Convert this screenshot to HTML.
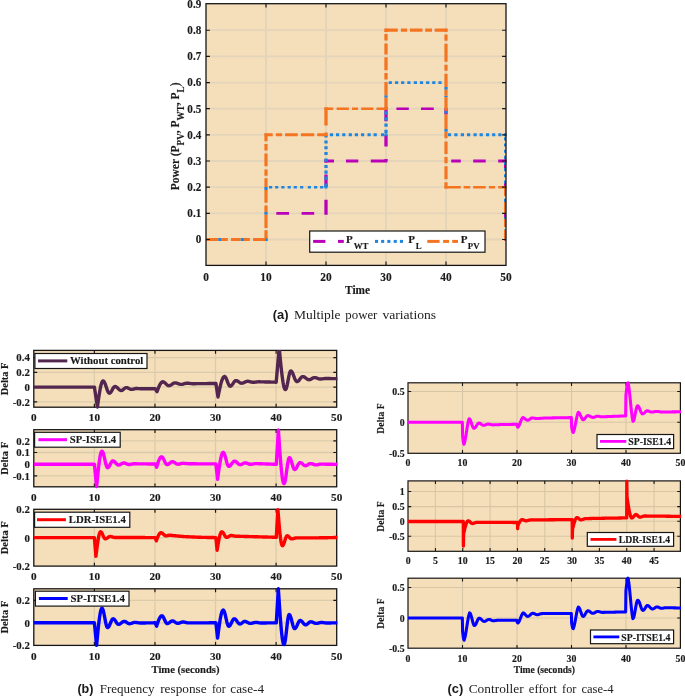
<!DOCTYPE html>
<html><head><meta charset="utf-8"><title>figure</title>
<style>html,body{margin:0;padding:0;background:#fff}svg{display:block;will-change:transform;opacity:0.999}</style></head><body>
<svg width="685" height="697" viewBox="0 0 685 697">
<rect x="0" y="0" width="685" height="697" fill="#ffffff"/>
<rect x="206" y="3.7" width="300" height="261.7" fill="#f5deba"/>
<line x1="266" y1="3.7" x2="266" y2="265.4" stroke="rgb(227,212,186)" stroke-width="1.8"/>
<line x1="326" y1="3.7" x2="326" y2="265.4" stroke="rgb(227,212,186)" stroke-width="1.8"/>
<line x1="386" y1="3.7" x2="386" y2="265.4" stroke="rgb(227,212,186)" stroke-width="1.8"/>
<line x1="446" y1="3.7" x2="446" y2="265.4" stroke="rgb(227,212,186)" stroke-width="1.8"/>
<line x1="206" y1="239.5" x2="506" y2="239.5" stroke="rgb(227,212,186)" stroke-width="1.8"/>
<line x1="206" y1="213.34" x2="506" y2="213.34" stroke="rgb(227,212,186)" stroke-width="1.8"/>
<line x1="206" y1="187.18" x2="506" y2="187.18" stroke="rgb(227,212,186)" stroke-width="1.8"/>
<line x1="206" y1="161.02" x2="506" y2="161.02" stroke="rgb(227,212,186)" stroke-width="1.8"/>
<line x1="206" y1="134.86" x2="506" y2="134.86" stroke="rgb(227,212,186)" stroke-width="1.8"/>
<line x1="206" y1="108.7" x2="506" y2="108.7" stroke="rgb(227,212,186)" stroke-width="1.8"/>
<line x1="206" y1="82.54" x2="506" y2="82.54" stroke="rgb(227,212,186)" stroke-width="1.8"/>
<line x1="206" y1="56.38" x2="506" y2="56.38" stroke="rgb(227,212,186)" stroke-width="1.8"/>
<line x1="206" y1="30.22" x2="506" y2="30.22" stroke="rgb(227,212,186)" stroke-width="1.8"/>
<clipPath id="ca"><rect x="206" y="3.7" width="300.6" height="261.7"/></clipPath>
<g clip-path="url(#ca)" fill="none" stroke-linecap="butt">
<line x1="276.3" y1="213.34" x2="289" y2="213.34" stroke="#ba00ba" stroke-width="2.8"/>
<line x1="301.6" y1="213.34" x2="314.2" y2="213.34" stroke="#ba00ba" stroke-width="2.8"/>
<line x1="326" y1="214.74" x2="326" y2="199.8" stroke="#ba00ba" stroke-width="3.3"/>
<line x1="326" y1="187" x2="326" y2="174.5" stroke="#ba00ba" stroke-width="3.3"/>
<line x1="326" y1="162.5" x2="326" y2="159.62" stroke="#ba00ba" stroke-width="3.3"/>
<line x1="324.6" y1="161.02" x2="334" y2="161.02" stroke="#ba00ba" stroke-width="2.8"/>
<line x1="346" y1="161.02" x2="358.3" y2="161.02" stroke="#ba00ba" stroke-width="2.8"/>
<line x1="370.8" y1="161.02" x2="387.4" y2="161.02" stroke="#ba00ba" stroke-width="2.8"/>
<line x1="386" y1="161.02" x2="386" y2="159" stroke="#ba00ba" stroke-width="3.3"/>
<line x1="386" y1="146.6" x2="386" y2="135" stroke="#ba00ba" stroke-width="3.3"/>
<line x1="386" y1="121.3" x2="386" y2="107.3" stroke="#ba00ba" stroke-width="3.3"/>
<line x1="396.4" y1="108.7" x2="408.8" y2="108.7" stroke="#ba00ba" stroke-width="2.6"/>
<line x1="421" y1="108.7" x2="433.8" y2="108.7" stroke="#ba00ba" stroke-width="2.6"/>
<line x1="446" y1="108" x2="446" y2="114.4" stroke="#ba00ba" stroke-width="3.3"/>
<line x1="446" y1="87.1" x2="446" y2="89.8" stroke="#1f86e0" stroke-width="3.3"/>
<line x1="446" y1="95.8" x2="446" y2="97.2" stroke="#1f86e0" stroke-width="3.3"/>
<line x1="446" y1="111" x2="446" y2="113.2" stroke="#1f86e0" stroke-width="3.3"/>
<line x1="446" y1="128.9" x2="446" y2="131.8" stroke="#1f86e0" stroke-width="3.3"/>
<line x1="451.2" y1="161.02" x2="460.8" y2="161.02" stroke="#ba00ba" stroke-width="2.8"/>
<line x1="473.2" y1="161.02" x2="485.7" y2="161.02" stroke="#ba00ba" stroke-width="2.8"/>
<line x1="498.2" y1="161.02" x2="507.5" y2="161.02" stroke="#ba00ba" stroke-width="2.8"/>
<line x1="505" y1="159.62" x2="505" y2="170" stroke="#ba00ba" stroke-width="2"/>
<line x1="505" y1="182" x2="505" y2="194" stroke="#ba00ba" stroke-width="2"/>
<line x1="505" y1="206" x2="505" y2="218" stroke="#ba00ba" stroke-width="2"/>
<line x1="505" y1="230" x2="505" y2="240.8" stroke="#ba00ba" stroke-width="2"/>
<line x1="218.2" y1="239.5" x2="221.6" y2="239.5" stroke="#1f86e0" stroke-width="2.8"/>
<line x1="240.5" y1="239.5" x2="243.9" y2="239.5" stroke="#1f86e0" stroke-width="2.8"/>
<line x1="264.5" y1="239.5" x2="267.5" y2="239.5" stroke="#1f86e0" stroke-width="2.8"/>
<line x1="266" y1="211.9" x2="266" y2="214.8" stroke="#1f86e0" stroke-width="3.3"/>
<line x1="266" y1="186.9" x2="266" y2="190" stroke="#1f86e0" stroke-width="3.3"/>
<line x1="269" y1="187.18" x2="272.2" y2="187.18" stroke="#1f86e0" stroke-width="2.5"/>
<line x1="275.1" y1="187.18" x2="278.3" y2="187.18" stroke="#1f86e0" stroke-width="2.5"/>
<line x1="281.3" y1="187.18" x2="284.5" y2="187.18" stroke="#1f86e0" stroke-width="2.5"/>
<line x1="287.6" y1="187.18" x2="290.8" y2="187.18" stroke="#1f86e0" stroke-width="2.5"/>
<line x1="293.7" y1="187.18" x2="296.9" y2="187.18" stroke="#1f86e0" stroke-width="2.5"/>
<line x1="300.1" y1="187.18" x2="303.3" y2="187.18" stroke="#1f86e0" stroke-width="2.5"/>
<line x1="307.8" y1="187.18" x2="311" y2="187.18" stroke="#1f86e0" stroke-width="2.5"/>
<line x1="314" y1="187.18" x2="317.2" y2="187.18" stroke="#1f86e0" stroke-width="2.5"/>
<line x1="320.1" y1="187.18" x2="323.3" y2="187.18" stroke="#1f86e0" stroke-width="2.5"/>
<line x1="324.4" y1="187.18" x2="327.5" y2="187.18" stroke="#1f86e0" stroke-width="2.5"/>
<line x1="326" y1="134.5" x2="326" y2="137.6" stroke="#1f86e0" stroke-width="3.3"/>
<line x1="326" y1="140.5" x2="326" y2="143.6" stroke="#1f86e0" stroke-width="3.3"/>
<line x1="326" y1="146.2" x2="326" y2="149.3" stroke="#1f86e0" stroke-width="3.3"/>
<line x1="326" y1="152" x2="326" y2="155.1" stroke="#1f86e0" stroke-width="3.3"/>
<line x1="326" y1="158.6" x2="326" y2="161.7" stroke="#1f86e0" stroke-width="3.3"/>
<line x1="326" y1="164.9" x2="326" y2="168" stroke="#1f86e0" stroke-width="3.3"/>
<line x1="326" y1="170.6" x2="326" y2="173.7" stroke="#1f86e0" stroke-width="3.3"/>
<line x1="326" y1="176.6" x2="326" y2="179.7" stroke="#1f86e0" stroke-width="3.3"/>
<line x1="326" y1="183.6" x2="326" y2="186.7" stroke="#1f86e0" stroke-width="3.3"/>
<line x1="329.9" y1="134.86" x2="333.1" y2="134.86" stroke="#1f86e0" stroke-width="3"/>
<line x1="336" y1="134.86" x2="339.2" y2="134.86" stroke="#1f86e0" stroke-width="3"/>
<line x1="342.2" y1="134.86" x2="345.4" y2="134.86" stroke="#1f86e0" stroke-width="3"/>
<line x1="348.7" y1="134.86" x2="351.9" y2="134.86" stroke="#1f86e0" stroke-width="3"/>
<line x1="354.8" y1="134.86" x2="358" y2="134.86" stroke="#1f86e0" stroke-width="3"/>
<line x1="361" y1="134.86" x2="364.2" y2="134.86" stroke="#1f86e0" stroke-width="3"/>
<line x1="367.5" y1="134.86" x2="370.7" y2="134.86" stroke="#1f86e0" stroke-width="3"/>
<line x1="373.6" y1="134.86" x2="376.8" y2="134.86" stroke="#1f86e0" stroke-width="3"/>
<line x1="381" y1="134.86" x2="384.2" y2="134.86" stroke="#1f86e0" stroke-width="3"/>
<line x1="384.5" y1="134.86" x2="387.5" y2="134.86" stroke="#1f86e0" stroke-width="3"/>
<line x1="386" y1="129.7" x2="386" y2="132.9" stroke="#1f86e0" stroke-width="3.3"/>
<line x1="386" y1="123.5" x2="386" y2="126.7" stroke="#1f86e0" stroke-width="3.3"/>
<line x1="386" y1="117.3" x2="386" y2="120.5" stroke="#1f86e0" stroke-width="3.3"/>
<line x1="386" y1="111.3" x2="386" y2="114.5" stroke="#1f86e0" stroke-width="3.3"/>
<line x1="386" y1="95.2" x2="386" y2="97.8" stroke="#1f86e0" stroke-width="3.3"/>
<line x1="388.7" y1="82.54" x2="391.9" y2="82.54" stroke="#1f86e0" stroke-width="2.8"/>
<line x1="395" y1="82.54" x2="398.2" y2="82.54" stroke="#1f86e0" stroke-width="2.8"/>
<line x1="401.1" y1="82.54" x2="404.3" y2="82.54" stroke="#1f86e0" stroke-width="2.8"/>
<line x1="407.3" y1="82.54" x2="410.5" y2="82.54" stroke="#1f86e0" stroke-width="2.8"/>
<line x1="413.8" y1="82.54" x2="417" y2="82.54" stroke="#1f86e0" stroke-width="2.8"/>
<line x1="419.9" y1="82.54" x2="423.1" y2="82.54" stroke="#1f86e0" stroke-width="2.8"/>
<line x1="426.1" y1="82.54" x2="429.3" y2="82.54" stroke="#1f86e0" stroke-width="2.8"/>
<line x1="432.2" y1="82.54" x2="435.4" y2="82.54" stroke="#1f86e0" stroke-width="2.8"/>
<line x1="438.4" y1="82.54" x2="441.6" y2="82.54" stroke="#1f86e0" stroke-width="2.8"/>
<line x1="447.9" y1="134.86" x2="451.1" y2="134.86" stroke="#1f86e0" stroke-width="3"/>
<line x1="454.3" y1="134.86" x2="457.5" y2="134.86" stroke="#1f86e0" stroke-width="3"/>
<line x1="460.8" y1="134.86" x2="464" y2="134.86" stroke="#1f86e0" stroke-width="3"/>
<line x1="467" y1="134.86" x2="470.2" y2="134.86" stroke="#1f86e0" stroke-width="3"/>
<line x1="473.5" y1="134.86" x2="476.7" y2="134.86" stroke="#1f86e0" stroke-width="3"/>
<line x1="479.6" y1="134.86" x2="482.8" y2="134.86" stroke="#1f86e0" stroke-width="3"/>
<line x1="486" y1="134.86" x2="489.2" y2="134.86" stroke="#1f86e0" stroke-width="3"/>
<line x1="492.1" y1="134.86" x2="495.3" y2="134.86" stroke="#1f86e0" stroke-width="3"/>
<line x1="498.3" y1="134.86" x2="501.5" y2="134.86" stroke="#1f86e0" stroke-width="3"/>
<line x1="503.7" y1="134.86" x2="507.5" y2="134.86" stroke="#1f86e0" stroke-width="3"/>
<line x1="505" y1="137.36" x2="505" y2="140.46" stroke="#1f86e0" stroke-width="2"/>
<line x1="505" y1="143.51" x2="505" y2="146.61" stroke="#1f86e0" stroke-width="2"/>
<line x1="505" y1="149.66" x2="505" y2="152.76" stroke="#1f86e0" stroke-width="2"/>
<line x1="505" y1="155.81" x2="505" y2="158.91" stroke="#1f86e0" stroke-width="2"/>
<line x1="505" y1="161.96" x2="505" y2="165.06" stroke="#1f86e0" stroke-width="2"/>
<line x1="505" y1="168.11" x2="505" y2="171.21" stroke="#1f86e0" stroke-width="2"/>
<line x1="505" y1="174.26" x2="505" y2="177.36" stroke="#1f86e0" stroke-width="2"/>
<line x1="505" y1="180.41" x2="505" y2="183.51" stroke="#1f86e0" stroke-width="2"/>
<line x1="505" y1="186.56" x2="505" y2="189.66" stroke="#1f86e0" stroke-width="2"/>
<line x1="505" y1="192.71" x2="505" y2="195.81" stroke="#1f86e0" stroke-width="2"/>
<line x1="505" y1="198.86" x2="505" y2="201.96" stroke="#1f86e0" stroke-width="2"/>
<line x1="505" y1="205.01" x2="505" y2="208.11" stroke="#1f86e0" stroke-width="2"/>
<line x1="505" y1="211.16" x2="505" y2="214.26" stroke="#1f86e0" stroke-width="2"/>
<line x1="505" y1="217.31" x2="505" y2="220.41" stroke="#1f86e0" stroke-width="2"/>
<line x1="505" y1="223.46" x2="505" y2="226.56" stroke="#1f86e0" stroke-width="2"/>
<line x1="505" y1="229.61" x2="505" y2="232.71" stroke="#1f86e0" stroke-width="2"/>
<line x1="505" y1="235.76" x2="505" y2="238.86" stroke="#1f86e0" stroke-width="2"/>
<line x1="206" y1="239.5" x2="218.2" y2="239.5" stroke="#f47521" stroke-width="2.8"/>
<line x1="221.5" y1="239.5" x2="227.8" y2="239.5" stroke="#f47521" stroke-width="2.8"/>
<line x1="231" y1="239.5" x2="240.4" y2="239.5" stroke="#f47521" stroke-width="2.8"/>
<line x1="243.9" y1="239.5" x2="249.9" y2="239.5" stroke="#f47521" stroke-width="2.8"/>
<line x1="253.1" y1="239.5" x2="267.4" y2="239.5" stroke="#f47521" stroke-width="2.8"/>
<line x1="266" y1="240.9" x2="266" y2="230.3" stroke="#f47521" stroke-width="3.2"/>
<line x1="266" y1="227.9" x2="266" y2="214.8" stroke="#f47521" stroke-width="3.2"/>
<line x1="266" y1="211.9" x2="266" y2="205.5" stroke="#f47521" stroke-width="3.2"/>
<line x1="266" y1="202.8" x2="266" y2="190" stroke="#f47521" stroke-width="3.2"/>
<line x1="266" y1="186.9" x2="266" y2="178.3" stroke="#f47521" stroke-width="3.2"/>
<line x1="266" y1="175.8" x2="266" y2="169.4" stroke="#f47521" stroke-width="3.2"/>
<line x1="266" y1="166.3" x2="266" y2="153.4" stroke="#f47521" stroke-width="3.2"/>
<line x1="266" y1="150.5" x2="266" y2="143.9" stroke="#f47521" stroke-width="3.2"/>
<line x1="266" y1="141.3" x2="266" y2="133.46" stroke="#f47521" stroke-width="3.2"/>
<line x1="264.6" y1="134.86" x2="272.7" y2="134.86" stroke="#f47521" stroke-width="3"/>
<line x1="275.9" y1="134.86" x2="282.1" y2="134.86" stroke="#f47521" stroke-width="3"/>
<line x1="285.1" y1="134.86" x2="297.8" y2="134.86" stroke="#f47521" stroke-width="3"/>
<line x1="300.9" y1="134.86" x2="314.2" y2="134.86" stroke="#f47521" stroke-width="3"/>
<line x1="317.2" y1="134.86" x2="327.4" y2="134.86" stroke="#f47521" stroke-width="3"/>
<line x1="326" y1="134.86" x2="326" y2="132.6" stroke="#f47521" stroke-width="3.3"/>
<line x1="326" y1="125.5" x2="326" y2="107.3" stroke="#f47521" stroke-width="3.3"/>
<line x1="324.6" y1="108.7" x2="333.2" y2="108.7" stroke="#f47521" stroke-width="2.6"/>
<line x1="336.6" y1="108.7" x2="348.9" y2="108.7" stroke="#f47521" stroke-width="2.6"/>
<line x1="352" y1="108.7" x2="358.1" y2="108.7" stroke="#f47521" stroke-width="2.6"/>
<line x1="361.2" y1="108.7" x2="373.4" y2="108.7" stroke="#f47521" stroke-width="2.6"/>
<line x1="376.5" y1="108.7" x2="387.4" y2="108.7" stroke="#f47521" stroke-width="2.6"/>
<line x1="386" y1="110.1" x2="386" y2="97.8" stroke="#f47521" stroke-width="3.3"/>
<line x1="386" y1="95.2" x2="386" y2="82.1" stroke="#f47521" stroke-width="3.3"/>
<line x1="386" y1="79.4" x2="386" y2="73.1" stroke="#f47521" stroke-width="3.3"/>
<line x1="386" y1="70.2" x2="386" y2="57.3" stroke="#f47521" stroke-width="3.3"/>
<line x1="386" y1="54.4" x2="386" y2="43.4" stroke="#f47521" stroke-width="3.3"/>
<line x1="386" y1="40.6" x2="386" y2="33.9" stroke="#f47521" stroke-width="3.3"/>
<line x1="386" y1="32" x2="386" y2="28.82" stroke="#f47521" stroke-width="3.3"/>
<line x1="384.6" y1="30.22" x2="397.8" y2="30.22" stroke="#f47521" stroke-width="3.2"/>
<line x1="400.9" y1="30.22" x2="407.1" y2="30.22" stroke="#f47521" stroke-width="3.2"/>
<line x1="409.9" y1="30.22" x2="422.5" y2="30.22" stroke="#f47521" stroke-width="3.2"/>
<line x1="425.2" y1="30.22" x2="432" y2="30.22" stroke="#f47521" stroke-width="3.2"/>
<line x1="434.7" y1="30.22" x2="447.4" y2="30.22" stroke="#f47521" stroke-width="3.2"/>
<line x1="446" y1="28.82" x2="446" y2="31.8" stroke="#f47521" stroke-width="3.2"/>
<line x1="446" y1="34.5" x2="446" y2="40.8" stroke="#f47521" stroke-width="3.2"/>
<line x1="446" y1="43.7" x2="446" y2="61.8" stroke="#f47521" stroke-width="3.2"/>
<line x1="446" y1="64.7" x2="446" y2="70.8" stroke="#f47521" stroke-width="3.2"/>
<line x1="446" y1="73.7" x2="446" y2="87.1" stroke="#f47521" stroke-width="3.2"/>
<line x1="446" y1="89.8" x2="446" y2="95.8" stroke="#f47521" stroke-width="3.2"/>
<line x1="446" y1="97.2" x2="446" y2="110.8" stroke="#f47521" stroke-width="3.2"/>
<line x1="446" y1="114.4" x2="446" y2="128.9" stroke="#f47521" stroke-width="3.2"/>
<line x1="446" y1="131.8" x2="446" y2="138.3" stroke="#f47521" stroke-width="3.2"/>
<line x1="446" y1="141.4" x2="446" y2="154" stroke="#f47521" stroke-width="3.2"/>
<line x1="446" y1="156.9" x2="446" y2="163.3" stroke="#f47521" stroke-width="3.2"/>
<line x1="446" y1="166.3" x2="446" y2="179.2" stroke="#f47521" stroke-width="3.2"/>
<line x1="446" y1="182.2" x2="446" y2="188.58" stroke="#f47521" stroke-width="3.2"/>
<line x1="444.6" y1="187.18" x2="460.8" y2="187.18" stroke="#f47521" stroke-width="2.5"/>
<line x1="463.7" y1="187.18" x2="470.2" y2="187.18" stroke="#f47521" stroke-width="2.5"/>
<line x1="473.2" y1="187.18" x2="485.7" y2="187.18" stroke="#f47521" stroke-width="2.5"/>
<line x1="488.9" y1="187.18" x2="495.1" y2="187.18" stroke="#f47521" stroke-width="2.5"/>
<line x1="498.2" y1="187.18" x2="507.5" y2="187.18" stroke="#f47521" stroke-width="2.5"/>
<line x1="505" y1="185.78" x2="505" y2="196" stroke="#f47521" stroke-width="2"/>
<line x1="505" y1="202" x2="505" y2="213" stroke="#f47521" stroke-width="2"/>
<line x1="505" y1="218.8" x2="505" y2="227" stroke="#f47521" stroke-width="2"/>
<line x1="505" y1="230" x2="505" y2="240.8" stroke="#f47521" stroke-width="2"/>
<line x1="265.3" y1="239.7" x2="267.5" y2="239.7" stroke="#1f86e0" stroke-width="2.6"/>
</g>
<path d="M266 265.4v-3.9M266 3.7v3.9M326 265.4v-3.9M326 3.7v3.9M386 265.4v-3.9M386 3.7v3.9M446 265.4v-3.9M446 3.7v3.9M206 239.5h3.9M506 239.5h-3.9M206 213.34h3.9M506 213.34h-3.9M206 187.18h3.9M506 187.18h-3.9M206 161.02h3.9M506 161.02h-3.9M206 134.86h3.9M506 134.86h-3.9M206 108.7h3.9M506 108.7h-3.9M206 82.54h3.9M506 82.54h-3.9M206 56.38h3.9M506 56.38h-3.9M206 30.22h3.9M506 30.22h-3.9" stroke="#161616" stroke-width="1.17" fill="none"/>
<rect x="206" y="3.7" width="300" height="261.7" fill="none" stroke="#161616" stroke-width="1.3"/>
<rect x="309.7" y="231" width="175.3" height="21.2" fill="#ffffff" stroke="#161616" stroke-width="1.2"/>
<line x1="313.1" y1="241.4" x2="325.4" y2="241.4" stroke="#ba00ba" stroke-width="3"/>
<line x1="338" y1="241.4" x2="343.8" y2="241.4" stroke="#ba00ba" stroke-width="3"/>
<line x1="375" y1="241.4" x2="378.1" y2="241.4" stroke="#1f86e0" stroke-width="3"/>
<line x1="381.1" y1="241.4" x2="384.2" y2="241.4" stroke="#1f86e0" stroke-width="3"/>
<line x1="387.3" y1="241.4" x2="390.4" y2="241.4" stroke="#1f86e0" stroke-width="3"/>
<line x1="393.7" y1="241.4" x2="396.8" y2="241.4" stroke="#1f86e0" stroke-width="3"/>
<line x1="399.9" y1="241.4" x2="403" y2="241.4" stroke="#1f86e0" stroke-width="3"/>
<line x1="427.3" y1="241.4" x2="439.6" y2="241.4" stroke="#f47521" stroke-width="3"/>
<line x1="443.1" y1="241.4" x2="449" y2="241.4" stroke="#f47521" stroke-width="3"/>
<line x1="452.2" y1="241.4" x2="458" y2="241.4" stroke="#f47521" stroke-width="3"/>
<text transform="translate(346 242.9)" font-family="Liberation Serif" font-size="11" font-weight="bold" text-anchor="start" fill="#1a1a1a" stroke="#1a1a1a" stroke-width="0.15">P</text>
<text transform="translate(353.8 248.7)" font-family="Liberation Serif" font-size="8.8" font-weight="bold" text-anchor="start" fill="#1a1a1a" stroke="#1a1a1a" stroke-width="0.15">WT</text>
<text transform="translate(408.2 242.9)" font-family="Liberation Serif" font-size="11" font-weight="bold" text-anchor="start" fill="#1a1a1a" stroke="#1a1a1a" stroke-width="0.15">P</text>
<text transform="translate(415.7 248.7)" font-family="Liberation Serif" font-size="8.8" font-weight="bold" text-anchor="start" fill="#1a1a1a" stroke="#1a1a1a" stroke-width="0.15">L</text>
<text transform="translate(460.7 242.9)" font-family="Liberation Serif" font-size="11" font-weight="bold" text-anchor="start" fill="#1a1a1a" stroke="#1a1a1a" stroke-width="0.15">P</text>
<text transform="translate(467.8 248.7)" font-family="Liberation Serif" font-size="8.8" font-weight="bold" text-anchor="start" fill="#1a1a1a" stroke="#1a1a1a" stroke-width="0.15">PV</text>
<text transform="translate(206 280.5) scale(0.920 1.000)" font-family="Liberation Serif" font-size="12.4" font-weight="bold" text-anchor="middle" fill="#1a1a1a" stroke="#1a1a1a" stroke-width="0.15">0</text>
<text transform="translate(266 280.5) scale(0.920 1.000)" font-family="Liberation Serif" font-size="12.4" font-weight="bold" text-anchor="middle" fill="#1a1a1a" stroke="#1a1a1a" stroke-width="0.15">10</text>
<text transform="translate(326 280.5) scale(0.920 1.000)" font-family="Liberation Serif" font-size="12.4" font-weight="bold" text-anchor="middle" fill="#1a1a1a" stroke="#1a1a1a" stroke-width="0.15">20</text>
<text transform="translate(386 280.5) scale(0.920 1.000)" font-family="Liberation Serif" font-size="12.4" font-weight="bold" text-anchor="middle" fill="#1a1a1a" stroke="#1a1a1a" stroke-width="0.15">30</text>
<text transform="translate(446 280.5) scale(0.920 1.000)" font-family="Liberation Serif" font-size="12.4" font-weight="bold" text-anchor="middle" fill="#1a1a1a" stroke="#1a1a1a" stroke-width="0.15">40</text>
<text transform="translate(506 280.5) scale(0.920 1.000)" font-family="Liberation Serif" font-size="12.4" font-weight="bold" text-anchor="middle" fill="#1a1a1a" stroke="#1a1a1a" stroke-width="0.15">50</text>
<text transform="translate(201.3 243.4) scale(0.900 1.000)" font-family="Liberation Serif" font-size="12.4" font-weight="bold" text-anchor="end" fill="#1a1a1a" stroke="#1a1a1a" stroke-width="0.15">0</text>
<text transform="translate(201.3 217.24) scale(0.900 1.000)" font-family="Liberation Serif" font-size="12.4" font-weight="bold" text-anchor="end" fill="#1a1a1a" stroke="#1a1a1a" stroke-width="0.15">0.1</text>
<text transform="translate(201.3 191.08) scale(0.900 1.000)" font-family="Liberation Serif" font-size="12.4" font-weight="bold" text-anchor="end" fill="#1a1a1a" stroke="#1a1a1a" stroke-width="0.15">0.2</text>
<text transform="translate(201.3 164.92) scale(0.900 1.000)" font-family="Liberation Serif" font-size="12.4" font-weight="bold" text-anchor="end" fill="#1a1a1a" stroke="#1a1a1a" stroke-width="0.15">0.3</text>
<text transform="translate(201.3 138.76) scale(0.900 1.000)" font-family="Liberation Serif" font-size="12.4" font-weight="bold" text-anchor="end" fill="#1a1a1a" stroke="#1a1a1a" stroke-width="0.15">0.4</text>
<text transform="translate(201.3 112.6) scale(0.900 1.000)" font-family="Liberation Serif" font-size="12.4" font-weight="bold" text-anchor="end" fill="#1a1a1a" stroke="#1a1a1a" stroke-width="0.15">0.5</text>
<text transform="translate(201.3 86.44) scale(0.900 1.000)" font-family="Liberation Serif" font-size="12.4" font-weight="bold" text-anchor="end" fill="#1a1a1a" stroke="#1a1a1a" stroke-width="0.15">0.6</text>
<text transform="translate(201.3 60.28) scale(0.900 1.000)" font-family="Liberation Serif" font-size="12.4" font-weight="bold" text-anchor="end" fill="#1a1a1a" stroke="#1a1a1a" stroke-width="0.15">0.7</text>
<text transform="translate(201.3 34.12) scale(0.900 1.000)" font-family="Liberation Serif" font-size="12.4" font-weight="bold" text-anchor="end" fill="#1a1a1a" stroke="#1a1a1a" stroke-width="0.15">0.8</text>
<text transform="translate(201.3 7.96) scale(0.900 1.000)" font-family="Liberation Serif" font-size="12.4" font-weight="bold" text-anchor="end" fill="#1a1a1a" stroke="#1a1a1a" stroke-width="0.15">0.9</text>
<text transform="translate(357.6 294.2) scale(0.930 1.000)" font-family="Liberation Serif" font-size="12.2" font-weight="bold" text-anchor="middle" fill="#1a1a1a" stroke="#1a1a1a" stroke-width="0.15">Time</text>
<text transform="translate(178.5 136.4) rotate(-90) scale(0.915 1)" font-family="Liberation Serif" font-weight="bold" font-size="12.6" text-anchor="middle" stroke="#1a1a1a" stroke-width="0.15" fill="#1a1a1a">Power (P<tspan font-size="10" dy="5.2">PV</tspan><tspan dy="-5.2">, P</tspan><tspan font-size="10" dy="5.2">WT</tspan><tspan dy="-5.2">, P</tspan><tspan font-size="10" dy="5.2">L</tspan><tspan dy="-5.2">)</tspan></text>
<text transform="translate(272.8 319)" font-family="Liberation Sans" font-size="12.2" font-weight="bold" text-anchor="start" fill="#1a1a1a" textLength="15.8" lengthAdjust="spacingAndGlyphs">(a)</text>
<text transform="translate(294 319)" font-family="Liberation Serif" font-size="12.6" font-weight="normal" text-anchor="start" fill="#222222" textLength="46.6" lengthAdjust="spacingAndGlyphs">Multiple</text>
<text transform="translate(345.3 319)" font-family="Liberation Serif" font-size="12.6" font-weight="normal" text-anchor="start" fill="#222222" textLength="32.1" lengthAdjust="spacingAndGlyphs">power</text>
<text transform="translate(382.4 319)" font-family="Liberation Serif" font-size="12.6" font-weight="normal" text-anchor="start" fill="#222222" textLength="53.7" lengthAdjust="spacingAndGlyphs">variations</text>
<rect x="33.8" y="350.4" width="302.9" height="56.8" fill="#f5deba"/>
<line x1="94.38" y1="350.4" x2="94.38" y2="407.2" stroke="rgb(220,203,170)" stroke-width="1.3"/>
<line x1="154.96" y1="350.4" x2="154.96" y2="407.2" stroke="rgb(220,203,170)" stroke-width="1.3"/>
<line x1="215.54" y1="350.4" x2="215.54" y2="407.2" stroke="rgb(220,203,170)" stroke-width="1.3"/>
<line x1="276.12" y1="350.4" x2="276.12" y2="407.2" stroke="rgb(220,203,170)" stroke-width="1.3"/>
<line x1="33.8" y1="357.7" x2="336.7" y2="357.7" stroke="rgb(220,203,170)" stroke-width="1.3"/>
<line x1="33.8" y1="372.4" x2="336.7" y2="372.4" stroke="rgb(220,203,170)" stroke-width="1.3"/>
<line x1="33.8" y1="387.1" x2="336.7" y2="387.1" stroke="rgb(220,203,170)" stroke-width="1.3"/>
<line x1="33.8" y1="401.8" x2="336.7" y2="401.8" stroke="rgb(220,203,170)" stroke-width="1.3"/>
<clipPath id="cb0"><rect x="33.8" y="350" width="303.7" height="60.2"/></clipPath>
<path d="M94.38 407.2v-3.4M94.38 350.4v3.4M154.96 407.2v-3.4M154.96 350.4v3.4M215.54 407.2v-3.4M215.54 350.4v3.4M276.12 407.2v-3.4M276.12 350.4v3.4M33.8 357.7h3.4M336.7 357.7h-3.4M33.8 372.4h3.4M336.7 372.4h-3.4M33.8 387.1h3.4M336.7 387.1h-3.4M33.8 401.8h3.4M336.7 401.8h-3.4" stroke="#161616" stroke-width="1.17" fill="none"/>
<rect x="33.8" y="350.4" width="302.9" height="56.8" fill="none" stroke="#161616" stroke-width="1.3"/>
<path d="M33.8,387.1 34.2,387.1 34.6,387.1 35,387.1 35.39,387.1 35.79,387.1 36.19,387.1 36.59,387.1 36.99,387.1 37.39,387.1 37.79,387.1 38.19,387.1 38.58,387.1 38.98,387.1 39.38,387.1 39.78,387.1 40.18,387.1 40.58,387.1 40.98,387.1 41.38,387.1 41.77,387.1 42.17,387.1 42.57,387.1 42.97,387.1 43.37,387.1 43.77,387.1 44.17,387.1 44.56,387.1 44.96,387.1 45.36,387.1 45.76,387.1 46.16,387.1 46.56,387.1 46.96,387.1 47.36,387.1 47.75,387.1 48.15,387.1 48.55,387.1 48.95,387.1 49.35,387.1 49.75,387.1 50.15,387.1 50.54,387.1 50.94,387.1 51.34,387.1 51.74,387.1 52.14,387.1 52.54,387.1 52.94,387.1 53.34,387.1 53.73,387.1 54.13,387.1 54.53,387.1 54.93,387.1 55.33,387.1 55.73,387.1 56.13,387.1 56.52,387.1 56.92,387.1 57.32,387.1 57.72,387.1 58.12,387.1 58.52,387.1 58.92,387.1 59.32,387.1 59.71,387.1 60.11,387.1 60.51,387.1 60.91,387.1 61.31,387.1 61.71,387.1 62.11,387.1 62.51,387.1 62.9,387.1 63.3,387.1 63.7,387.1 64.1,387.1 64.5,387.1 64.9,387.1 65.3,387.1 65.69,387.1 66.09,387.1 66.49,387.1 66.89,387.1 67.29,387.1 67.69,387.1 68.09,387.1 68.49,387.1 68.88,387.1 69.28,387.1 69.68,387.1 70.08,387.1 70.48,387.1 70.88,387.1 71.28,387.1 71.68,387.1 72.07,387.1 72.47,387.1 72.87,387.1 73.27,387.1 73.67,387.1 74.07,387.1 74.47,387.1 74.86,387.1 75.26,387.1 75.66,387.1 76.06,387.1 76.46,387.1 76.86,387.1 77.26,387.1 77.66,387.1 78.05,387.1 78.45,387.1 78.85,387.1 79.25,387.1 79.65,387.1 80.05,387.1 80.45,387.1 80.84,387.1 81.24,387.1 81.64,387.1 82.04,387.1 82.44,387.1 82.84,387.1 83.24,387.1 83.64,387.1 84.03,387.1 84.43,387.1 84.83,387.1 85.23,387.1 85.63,387.1 86.03,387.1 86.43,387.1 86.83,387.1 87.22,387.1 87.62,387.1 88.02,387.1 88.42,387.1 88.82,387.1 89.22,387.1 89.62,387.1 90.01,387.1 90.41,387.1 90.81,387.1 91.21,387.1 91.61,387.1 92.01,387.1 92.41,387.1 92.81,387.1 93.2,387.1 93.6,387.1 94,387.1 94.4,387.1 94.78,389.59 95.15,392.08 95.53,394.56 95.9,397.05 96.28,399.54 96.65,402.02 97.03,404.51 97.4,407 97.78,404.27 98.16,401.57 98.54,398.93 98.92,396.38 99.3,393.95 99.68,391.66 100.06,389.54 100.44,387.6 100.82,385.88 101.2,384.4 101.58,383.16 101.96,382.18 102.34,381.47 102.72,381.04 103.1,380.9 103.49,381.02 103.89,381.37 104.28,381.94 104.67,382.7 105.07,383.63 105.46,384.7 105.86,385.85 106.25,387.05 106.64,388.25 107.04,389.4 107.43,390.47 107.83,391.4 108.22,392.16 108.61,392.73 109.01,393.08 109.4,393.2 109.8,393.12 110.2,392.87 110.6,392.47 111,391.94 111.4,391.3 111.8,390.6 112.2,389.85 112.6,389.1 113,388.4 113.4,387.76 113.8,387.23 114.2,386.83 114.6,386.58 115,386.5 115.39,386.54 115.78,386.65 116.16,386.84 116.55,387.09 116.94,387.39 117.33,387.73 117.71,388.11 118.1,388.5 118.49,388.89 118.88,389.27 119.26,389.61 119.65,389.91 120.04,390.16 120.42,390.35 120.81,390.46 121.2,390.5 121.57,390.46 121.94,390.36 122.31,390.18 122.69,389.95 123.06,389.68 123.43,389.37 123.8,389.05 124.17,388.73 124.54,388.42 124.91,388.15 125.29,387.92 125.66,387.74 126.03,387.64 126.4,387.6 126.79,387.63 127.18,387.7 127.58,387.83 127.97,387.99 128.36,388.18 128.75,388.39 129.15,388.61 129.54,388.82 129.93,389.01 130.32,389.17 130.72,389.3 131.11,389.37 131.5,389.4 131.88,389.39 132.27,389.35 132.65,389.29 133.04,389.21 133.42,389.11 133.81,389 134.19,388.9 134.58,388.79 134.96,388.69 135.35,388.61 135.73,388.55 136.12,388.51 136.5,388.5 136.89,388.52 137.29,388.54 137.68,388.56 138.07,388.59 138.46,388.61 138.86,388.63 139.25,388.65 139.64,388.67 140.04,388.69 140.43,388.71 140.82,388.74 141.21,388.76 141.61,388.78 142,388.8 142.4,388.8 142.8,388.8 143.2,388.8 143.6,388.8 144,388.8 144.4,388.8 144.8,388.8 145.2,388.8 145.6,388.8 146,388.8 146.4,388.8 146.8,388.8 147.2,388.8 147.6,388.8 148,388.8 148.4,388.8 148.8,388.8 149.2,388.8 149.6,388.8 150,388.8 150.4,388.8 150.8,388.8 151.2,388.8 151.6,388.8 152,388.8 152.4,388.8 152.8,388.8 153.2,388.8 153.6,388.8 154,388.8 154.4,388.8 154.8,388.8 155.2,388.8 155.56,389.36 155.92,389.92 156.28,390.48 156.64,391.04 157,391.6 157.39,390.58 157.77,389.56 158.16,388.57 158.55,387.61 158.93,386.7 159.32,385.84 159.71,385.04 160.09,384.32 160.48,383.67 160.87,383.11 161.25,382.65 161.64,382.28 162.03,382.01 162.41,381.85 162.8,381.8 163.18,381.84 163.56,381.95 163.94,382.13 164.33,382.37 164.71,382.67 165.09,383 165.47,383.37 165.85,383.75 166.23,384.13 166.61,384.5 166.99,384.83 167.38,385.13 167.76,385.37 168.14,385.55 168.52,385.66 168.9,385.7 169.28,385.67 169.66,385.59 170.04,385.46 170.43,385.29 170.81,385.08 171.19,384.84 171.57,384.57 171.95,384.3 172.33,384.03 172.71,383.76 173.09,383.52 173.47,383.31 173.86,383.14 174.24,383.01 174.62,382.93 175,382.9 175.39,382.91 175.78,382.96 176.16,383.03 176.55,383.12 176.94,383.23 177.32,383.36 177.71,383.5 178.1,383.65 178.49,383.8 178.88,383.94 179.26,384.07 179.65,384.18 180.04,384.27 180.42,384.34 180.81,384.39 181.2,384.4 181.59,384.39 181.97,384.35 182.36,384.29 182.75,384.2 183.13,384.1 183.52,383.99 183.91,383.86 184.29,383.74 184.68,383.61 185.07,383.5 185.45,383.4 185.84,383.31 186.23,383.25 186.61,383.21 187,383.2 187.4,383.21 187.8,383.22 188.2,383.25 188.6,383.28 189,383.32 189.4,383.37 189.8,383.42 190.2,383.48 190.6,383.53 191,383.57 191.4,383.62 191.8,383.65 192.2,383.68 192.6,383.69 193,383.7 193.39,383.7 193.79,383.69 194.18,383.69 194.58,383.69 194.97,383.68 195.37,383.68 195.76,383.68 196.16,383.67 196.55,383.67 196.95,383.67 197.34,383.66 197.74,383.66 198.13,383.66 198.53,383.65 198.92,383.65 199.32,383.64 199.71,383.64 200.11,383.64 200.5,383.63 200.9,383.63 201.29,383.63 201.69,383.62 202.08,383.62 202.48,383.62 202.87,383.61 203.27,383.61 203.66,383.61 204.06,383.6 204.45,383.6 204.84,383.6 205.24,383.59 205.63,383.59 206.03,383.59 206.42,383.58 206.82,383.58 207.21,383.58 207.61,383.57 208,383.57 208.4,383.57 208.79,383.56 209.19,383.56 209.58,383.56 209.98,383.55 210.37,383.55 210.77,383.54 211.16,383.54 211.56,383.54 211.95,383.53 212.35,383.53 212.74,383.53 213.14,383.52 213.53,383.52 213.93,383.52 214.32,383.51 214.72,383.51 215.11,383.51 215.51,383.5 215.9,383.5 216.25,385.75 216.6,388 216.95,390.25 217.3,392.5 217.65,394.75 218,397 218.38,395.11 218.76,393.23 219.15,391.39 219.53,389.59 219.91,387.86 220.29,386.21 220.68,384.65 221.06,383.19 221.44,381.85 221.82,380.64 222.21,379.57 222.59,378.65 222.97,377.88 223.35,377.28 223.74,376.85 224.12,376.59 224.5,376.5 224.88,376.61 225.26,376.92 225.64,377.43 226.02,378.1 226.4,378.93 226.78,379.85 227.16,380.84 227.54,381.86 227.92,382.85 228.3,383.77 228.68,384.6 229.06,385.27 229.44,385.78 229.82,386.09 230.2,386.2 230.59,386.14 230.97,385.96 231.36,385.67 231.75,385.27 232.13,384.8 232.52,384.27 232.91,383.69 233.29,383.11 233.68,382.53 234.07,382 234.45,381.53 234.84,381.13 235.23,380.84 235.61,380.66 236,380.6 236.4,380.63 236.8,380.73 237.2,380.88 237.6,381.09 238,381.34 238.4,381.61 238.8,381.9 239.2,382.19 239.6,382.46 240,382.71 240.4,382.92 240.8,383.07 241.2,383.17 241.6,383.2 241.98,383.18 242.36,383.13 242.74,383.04 243.12,382.92 243.51,382.78 243.89,382.61 244.27,382.44 244.65,382.25 245.03,382.06 245.41,381.89 245.79,381.72 246.17,381.58 246.56,381.46 246.94,381.37 247.32,381.32 247.7,381.3 248.08,381.31 248.46,381.35 248.84,381.41 249.21,381.49 249.59,381.58 249.97,381.69 250.35,381.8 250.73,381.91 251.11,382.02 251.49,382.11 251.86,382.19 252.24,382.25 252.62,382.29 253,382.3 253.4,382.29 253.8,382.28 254.2,382.25 254.6,382.22 255,382.18 255.4,382.13 255.8,382.08 256.2,382.02 256.6,381.97 257,381.93 257.4,381.88 257.8,381.85 258.2,381.82 258.6,381.81 259,381.8 259.4,381.81 259.8,381.82 260.2,381.83 260.6,381.84 261,381.85 261.4,381.86 261.8,381.87 262.2,381.87 262.6,381.88 263,381.89 263.4,381.9 263.8,381.91 264.2,381.92 264.6,381.93 265,381.94 265.4,381.95 265.8,381.96 266.2,381.97 266.6,381.98 267,381.99 267.4,382 267.8,382 268.2,382.01 268.6,382.02 269,382.03 269.4,382.04 269.8,382.05 270.2,382.06 270.6,382.07 271,382.08 271.4,382.09 271.8,382.1 272.2,382.11 272.6,382.12 273,382.13 273.4,382.13 273.8,382.14 274.2,382.15 274.6,382.16 275,382.17 275.4,382.18 275.8,382.19 276.2,382.2 276.57,377.9 276.95,373.6 277.32,369.3 277.7,365 278.07,360.7 278.45,356.4 278.82,352.1 279.2,347.8 279.59,351.9 279.97,355.95 280.36,359.93 280.75,363.8 281.14,367.5 281.52,371.02 281.91,374.32 282.3,377.36 282.69,380.11 283.07,382.56 283.46,384.66 283.85,386.42 284.24,387.8 284.62,388.8 285.01,389.4 285.4,389.6 285.79,389.37 286.17,388.68 286.56,387.57 286.94,386.1 287.33,384.34 287.71,382.37 288.1,380.3 288.49,378.23 288.87,376.26 289.26,374.5 289.64,373.03 290.03,371.92 290.41,371.23 290.8,371 291.19,371.1 291.57,371.4 291.96,371.89 292.35,372.55 292.74,373.36 293.12,374.27 293.51,375.27 293.9,376.3 294.29,377.33 294.68,378.33 295.06,379.24 295.45,380.05 295.84,380.71 296.23,381.2 296.61,381.5 297,381.6 297.39,381.55 297.77,381.38 298.16,381.12 298.55,380.77 298.93,380.35 299.32,379.87 299.71,379.36 300.09,378.84 300.48,378.33 300.87,377.85 301.25,377.43 301.64,377.08 302.03,376.82 302.41,376.65 302.8,376.6 303.19,376.63 303.57,376.72 303.96,376.86 304.35,377.05 304.74,377.29 305.12,377.56 305.51,377.85 305.9,378.15 306.29,378.45 306.68,378.74 307.06,379.01 307.45,379.25 307.84,379.44 308.23,379.58 308.61,379.67 309,379.7 309.37,379.68 309.75,379.61 310.12,379.5 310.49,379.35 310.87,379.18 311.24,378.97 311.61,378.76 311.99,378.54 312.36,378.33 312.73,378.12 313.11,377.95 313.48,377.8 313.85,377.69 314.23,377.62 314.6,377.6 314.99,377.62 315.37,377.67 315.76,377.75 316.14,377.86 316.53,378 316.91,378.14 317.3,378.3 317.69,378.46 318.07,378.6 318.46,378.74 318.84,378.85 319.23,378.93 319.61,378.98 320,379 320.4,378.99 320.8,378.98 321.2,378.95 321.6,378.92 322,378.88 322.4,378.83 322.8,378.78 323.2,378.72 323.6,378.67 324,378.62 324.4,378.58 324.8,378.55 325.2,378.52 325.6,378.51 326,378.5 326.39,378.51 326.78,378.51 327.17,378.52 327.56,378.53 327.95,378.53 328.34,378.54 328.73,378.55 329.12,378.55 329.51,378.56 329.9,378.57 330.29,378.57 330.68,378.58 331.07,378.59 331.46,378.59 331.85,378.6 332.24,378.61 332.63,378.61 333.02,378.62 333.41,378.63 333.8,378.63 334.19,378.64 334.58,378.65 334.97,378.65 335.36,378.66 335.75,378.67 336.14,378.67 336.53,378.68 336.92,378.69 337.31,378.69 337.7,378.7" fill="none" stroke="#52264f" stroke-width="3.4" stroke-linejoin="round" stroke-linecap="butt" clip-path="url(#cb0)"/>
<rect x="34.9" y="353.5" width="112.1" height="15" fill="#ffffff" stroke="#161616" stroke-width="1.2"/>
<line x1="38" y1="360.9" x2="67.3" y2="360.9" stroke="#52264f" stroke-width="3"/>
<text transform="translate(70 364.4)" font-family="Liberation Serif" font-size="11.2" font-weight="bold" text-anchor="start" fill="#1a1a1a" textLength="73.3" lengthAdjust="spacingAndGlyphs" stroke="#1a1a1a" stroke-width="0.15">Without control</text>
<text transform="translate(33.8 421.4) scale(1.000 0.930)" font-family="Liberation Serif" font-size="11.2" font-weight="bold" text-anchor="middle" fill="#1a1a1a" stroke="#1a1a1a" stroke-width="0.15">0</text>
<text transform="translate(94.38 421.4) scale(1.000 0.930)" font-family="Liberation Serif" font-size="11.2" font-weight="bold" text-anchor="middle" fill="#1a1a1a" stroke="#1a1a1a" stroke-width="0.15">10</text>
<text transform="translate(154.96 421.4) scale(1.000 0.930)" font-family="Liberation Serif" font-size="11.2" font-weight="bold" text-anchor="middle" fill="#1a1a1a" stroke="#1a1a1a" stroke-width="0.15">20</text>
<text transform="translate(215.54 421.4) scale(1.000 0.930)" font-family="Liberation Serif" font-size="11.2" font-weight="bold" text-anchor="middle" fill="#1a1a1a" stroke="#1a1a1a" stroke-width="0.15">30</text>
<text transform="translate(276.12 421.4) scale(1.000 0.930)" font-family="Liberation Serif" font-size="11.2" font-weight="bold" text-anchor="middle" fill="#1a1a1a" stroke="#1a1a1a" stroke-width="0.15">40</text>
<text transform="translate(336.7 421.4) scale(1.000 0.930)" font-family="Liberation Serif" font-size="11.2" font-weight="bold" text-anchor="middle" fill="#1a1a1a" stroke="#1a1a1a" stroke-width="0.15">50</text>
<text transform="translate(29.9 361.2) scale(0.970 0.930)" font-family="Liberation Serif" font-size="11.2" font-weight="bold" text-anchor="end" fill="#1a1a1a" stroke="#1a1a1a" stroke-width="0.15">0.4</text>
<text transform="translate(29.9 376.3) scale(0.970 0.930)" font-family="Liberation Serif" font-size="11.2" font-weight="bold" text-anchor="end" fill="#1a1a1a" stroke="#1a1a1a" stroke-width="0.15">0.2</text>
<text transform="translate(29.9 391) scale(0.970 0.930)" font-family="Liberation Serif" font-size="11.2" font-weight="bold" text-anchor="end" fill="#1a1a1a" stroke="#1a1a1a" stroke-width="0.15">0</text>
<text transform="translate(29.9 405.7) scale(0.970 0.930)" font-family="Liberation Serif" font-size="11.2" font-weight="bold" text-anchor="end" fill="#1a1a1a" stroke="#1a1a1a" stroke-width="0.15">-0.2</text>
<text transform="translate(7.7 378.9) rotate(-90) scale(0.950 1.000)" font-family="Liberation Serif" font-size="11" font-weight="bold" text-anchor="middle" fill="#1a1a1a" stroke="#1a1a1a" stroke-width="0.15">Delta F</text>
<rect x="33.8" y="429.7" width="302.9" height="57.1" fill="#f5deba"/>
<line x1="94.38" y1="429.7" x2="94.38" y2="486.8" stroke="rgb(220,203,170)" stroke-width="1.3"/>
<line x1="154.96" y1="429.7" x2="154.96" y2="486.8" stroke="rgb(220,203,170)" stroke-width="1.3"/>
<line x1="215.54" y1="429.7" x2="215.54" y2="486.8" stroke="rgb(220,203,170)" stroke-width="1.3"/>
<line x1="276.12" y1="429.7" x2="276.12" y2="486.8" stroke="rgb(220,203,170)" stroke-width="1.3"/>
<line x1="33.8" y1="440.8" x2="336.7" y2="440.8" stroke="rgb(220,203,170)" stroke-width="1.3"/>
<line x1="33.8" y1="452.5" x2="336.7" y2="452.5" stroke="rgb(220,203,170)" stroke-width="1.3"/>
<line x1="33.8" y1="464.2" x2="336.7" y2="464.2" stroke="rgb(220,203,170)" stroke-width="1.3"/>
<line x1="33.8" y1="475.9" x2="336.7" y2="475.9" stroke="rgb(220,203,170)" stroke-width="1.3"/>
<clipPath id="cb1"><rect x="33.8" y="426.7" width="303.7" height="63.1"/></clipPath>
<path d="M94.38 486.8v-3.4M94.38 429.7v3.4M154.96 486.8v-3.4M154.96 429.7v3.4M215.54 486.8v-3.4M215.54 429.7v3.4M276.12 486.8v-3.4M276.12 429.7v3.4M33.8 440.8h3.4M336.7 440.8h-3.4M33.8 452.5h3.4M336.7 452.5h-3.4M33.8 464.2h3.4M336.7 464.2h-3.4M33.8 475.9h3.4M336.7 475.9h-3.4" stroke="#161616" stroke-width="1.17" fill="none"/>
<rect x="33.8" y="429.7" width="302.9" height="57.1" fill="none" stroke="#161616" stroke-width="1.3"/>
<path d="M33.8,464.2 34.2,464.2 34.6,464.2 35,464.2 35.39,464.2 35.79,464.2 36.19,464.2 36.59,464.2 36.99,464.2 37.39,464.2 37.79,464.2 38.19,464.2 38.58,464.2 38.98,464.2 39.38,464.2 39.78,464.2 40.18,464.2 40.58,464.2 40.98,464.2 41.38,464.2 41.77,464.2 42.17,464.2 42.57,464.2 42.97,464.2 43.37,464.2 43.77,464.2 44.17,464.2 44.56,464.2 44.96,464.2 45.36,464.2 45.76,464.2 46.16,464.2 46.56,464.2 46.96,464.2 47.36,464.2 47.75,464.2 48.15,464.2 48.55,464.2 48.95,464.2 49.35,464.2 49.75,464.2 50.15,464.2 50.54,464.2 50.94,464.2 51.34,464.2 51.74,464.2 52.14,464.2 52.54,464.2 52.94,464.2 53.34,464.2 53.73,464.2 54.13,464.2 54.53,464.2 54.93,464.2 55.33,464.2 55.73,464.2 56.13,464.2 56.52,464.2 56.92,464.2 57.32,464.2 57.72,464.2 58.12,464.2 58.52,464.2 58.92,464.2 59.32,464.2 59.71,464.2 60.11,464.2 60.51,464.2 60.91,464.2 61.31,464.2 61.71,464.2 62.11,464.2 62.51,464.2 62.9,464.2 63.3,464.2 63.7,464.2 64.1,464.2 64.5,464.2 64.9,464.2 65.3,464.2 65.69,464.2 66.09,464.2 66.49,464.2 66.89,464.2 67.29,464.2 67.69,464.2 68.09,464.2 68.49,464.2 68.88,464.2 69.28,464.2 69.68,464.2 70.08,464.2 70.48,464.2 70.88,464.2 71.28,464.2 71.68,464.2 72.07,464.2 72.47,464.2 72.87,464.2 73.27,464.2 73.67,464.2 74.07,464.2 74.47,464.2 74.86,464.2 75.26,464.2 75.66,464.2 76.06,464.2 76.46,464.2 76.86,464.2 77.26,464.2 77.66,464.2 78.05,464.2 78.45,464.2 78.85,464.2 79.25,464.2 79.65,464.2 80.05,464.2 80.45,464.2 80.84,464.2 81.24,464.2 81.64,464.2 82.04,464.2 82.44,464.2 82.84,464.2 83.24,464.2 83.64,464.2 84.03,464.2 84.43,464.2 84.83,464.2 85.23,464.2 85.63,464.2 86.03,464.2 86.43,464.2 86.83,464.2 87.22,464.2 87.62,464.2 88.02,464.2 88.42,464.2 88.82,464.2 89.22,464.2 89.62,464.2 90.01,464.2 90.41,464.2 90.81,464.2 91.21,464.2 91.61,464.2 92.01,464.2 92.41,464.2 92.81,464.2 93.2,464.2 93.6,464.2 94,464.2 94.4,464.2 94.77,467.93 95.13,471.67 95.5,475.4 95.87,479.13 96.23,482.87 96.6,486.6 96.99,482.64 97.37,478.72 97.76,474.91 98.14,471.24 98.53,467.77 98.91,464.53 99.3,461.57 99.69,458.92 100.07,456.63 100.46,454.71 100.84,453.19 101.23,452.09 101.61,451.42 102,451.2 102.4,451.41 102.8,452.02 103.2,453 103.6,454.31 104,455.87 104.4,457.61 104.8,459.45 105.2,461.29 105.6,463.03 106,464.59 106.4,465.9 106.8,466.88 107.2,467.49 107.6,467.7 107.98,467.61 108.36,467.36 108.74,466.96 109.11,466.42 109.49,465.78 109.87,465.06 110.25,464.3 110.63,463.54 111.01,462.82 111.39,462.18 111.76,461.64 112.14,461.24 112.52,460.99 112.9,460.9 113.3,460.95 113.7,461.1 114.1,461.35 114.5,461.67 114.9,462.06 115.3,462.49 115.7,462.95 116.1,463.41 116.5,463.84 116.9,464.23 117.3,464.55 117.7,464.8 118.1,464.95 118.5,465 118.88,464.97 119.26,464.9 119.64,464.78 120.01,464.62 120.39,464.43 120.77,464.22 121.15,464 121.53,463.78 121.91,463.57 122.29,463.38 122.66,463.22 123.04,463.1 123.42,463.03 123.8,463 124.17,463.02 124.54,463.07 124.91,463.16 125.29,463.28 125.66,463.42 126.03,463.58 126.4,463.75 126.77,463.92 127.14,464.08 127.51,464.22 127.89,464.34 128.26,464.43 128.63,464.48 129,464.5 129.38,464.49 129.77,464.46 130.15,464.41 130.54,464.35 130.92,464.27 131.31,464.19 131.69,464.11 132.08,464.03 132.46,463.95 132.85,463.89 133.23,463.84 133.62,463.81 134,463.8 134.4,463.8 134.8,463.81 135.2,463.81 135.6,463.82 136,463.82 136.4,463.82 136.8,463.83 137.2,463.83 137.6,463.83 138,463.84 138.4,463.84 138.8,463.85 139.2,463.85 139.6,463.85 140,463.86 140.4,463.86 140.8,463.86 141.2,463.87 141.6,463.87 142,463.88 142.4,463.88 142.8,463.88 143.2,463.89 143.6,463.89 144,463.89 144.4,463.9 144.8,463.9 145.2,463.91 145.6,463.91 146,463.91 146.4,463.92 146.8,463.92 147.2,463.92 147.6,463.93 148,463.93 148.4,463.94 148.8,463.94 149.2,463.94 149.6,463.95 150,463.95 150.4,463.95 150.8,463.96 151.2,463.96 151.6,463.97 152,463.97 152.4,463.97 152.8,463.98 153.2,463.98 153.6,463.98 154,463.99 154.4,463.99 154.8,464 155.2,464 155.55,464.82 155.9,465.65 156.25,466.48 156.6,467.3 156.98,466.03 157.35,464.79 157.73,463.58 158.11,462.42 158.48,461.34 158.86,460.34 159.24,459.44 159.62,458.66 159.99,458 160.37,457.48 160.75,457.11 161.12,456.88 161.5,456.8 161.88,456.89 162.26,457.14 162.64,457.54 163.02,458.09 163.4,458.75 163.78,459.49 164.16,460.29 164.54,461.11 164.92,461.91 165.3,462.65 165.68,463.31 166.06,463.86 166.44,464.26 166.82,464.51 167.2,464.6 167.57,464.56 167.94,464.46 168.31,464.28 168.69,464.05 169.06,463.78 169.43,463.47 169.8,463.15 170.17,462.83 170.54,462.52 170.91,462.25 171.29,462.02 171.66,461.84 172.03,461.74 172.4,461.7 172.8,461.73 173.2,461.82 173.6,461.97 174,462.17 174.4,462.41 174.8,462.67 175.2,462.95 175.6,463.23 176,463.49 176.4,463.73 176.8,463.93 177.2,464.08 177.6,464.17 178,464.2 178.38,464.19 178.77,464.15 179.15,464.09 179.54,464.01 179.92,463.91 180.31,463.8 180.69,463.7 181.08,463.59 181.46,463.49 181.85,463.41 182.23,463.35 182.62,463.31 183,463.3 183.39,463.33 183.78,463.36 184.17,463.38 184.56,463.41 184.94,463.44 185.33,463.47 185.72,463.49 186.11,463.52 186.5,463.55 186.89,463.58 187.28,463.61 187.67,463.63 188.06,463.66 188.44,463.69 188.83,463.72 189.22,463.74 189.61,463.77 190,463.8 190.4,463.8 190.8,463.8 191.2,463.8 191.59,463.81 191.99,463.81 192.39,463.81 192.79,463.81 193.19,463.81 193.59,463.81 193.98,463.82 194.38,463.82 194.78,463.82 195.18,463.82 195.58,463.82 195.98,463.82 196.38,463.82 196.77,463.83 197.17,463.83 197.57,463.83 197.97,463.83 198.37,463.83 198.77,463.83 199.16,463.84 199.56,463.84 199.96,463.84 200.36,463.84 200.76,463.84 201.16,463.84 201.56,463.84 201.95,463.85 202.35,463.85 202.75,463.85 203.15,463.85 203.55,463.85 203.95,463.85 204.34,463.86 204.74,463.86 205.14,463.86 205.54,463.86 205.94,463.86 206.34,463.86 206.74,463.86 207.13,463.87 207.53,463.87 207.93,463.87 208.33,463.87 208.73,463.87 209.13,463.87 209.52,463.88 209.92,463.88 210.32,463.88 210.72,463.88 211.12,463.88 211.52,463.88 211.92,463.88 212.31,463.89 212.71,463.89 213.11,463.89 213.51,463.89 213.91,463.89 214.31,463.89 214.7,463.9 215.1,463.9 215.5,463.9 215.9,463.9 216.24,466.96 216.58,470.02 216.92,473.08 217.26,476.14 217.6,479.2 218,476.2 218.4,473.24 218.8,470.35 219.2,467.57 219.6,464.94 220,462.49 220.4,460.25 220.8,458.25 221.2,456.51 221.6,455.05 222,453.9 222.4,453.07 222.8,452.57 223.2,452.4 223.57,452.55 223.95,453.01 224.32,453.74 224.69,454.72 225.07,455.9 225.44,457.24 225.81,458.67 226.19,460.13 226.56,461.56 226.93,462.9 227.31,464.08 227.68,465.06 228.05,465.79 228.43,466.25 228.8,466.4 229.19,466.34 229.57,466.18 229.96,465.9 230.35,465.54 230.73,465.1 231.12,464.6 231.51,464.07 231.89,463.53 232.28,463 232.67,462.5 233.05,462.06 233.44,461.7 233.83,461.42 234.21,461.26 234.6,461.2 235,461.24 235.4,461.37 235.8,461.58 236.2,461.86 236.6,462.19 237,462.56 237.4,462.95 237.8,463.34 238.2,463.71 238.6,464.04 239,464.32 239.4,464.53 239.8,464.66 240.2,464.7 240.58,464.67 240.95,464.6 241.33,464.47 241.71,464.31 242.08,464.12 242.46,463.91 242.84,463.69 243.22,463.48 243.59,463.29 243.97,463.13 244.35,463 244.72,462.93 245.1,462.9 245.49,462.92 245.87,462.97 246.26,463.05 246.64,463.16 247.03,463.3 247.41,463.44 247.8,463.6 248.19,463.76 248.57,463.9 248.96,464.04 249.34,464.15 249.73,464.23 250.11,464.28 250.5,464.3 250.89,464.29 251.29,464.27 251.68,464.22 252.07,464.17 252.46,464.1 252.86,464.03 253.25,463.95 253.64,463.87 254.04,463.8 254.43,463.73 254.82,463.68 255.21,463.63 255.61,463.61 256,463.6 256.4,463.61 256.8,463.63 257.19,463.64 257.59,463.65 257.99,463.67 258.39,463.68 258.79,463.7 259.18,463.71 259.58,463.72 259.98,463.74 260.38,463.75 260.78,463.76 261.17,463.78 261.57,463.79 261.97,463.81 262.37,463.82 262.77,463.83 263.16,463.85 263.56,463.86 263.96,463.87 264.36,463.89 264.76,463.9 265.15,463.92 265.55,463.93 265.95,463.94 266.35,463.96 266.75,463.97 267.15,463.98 267.54,464 267.94,464.01 268.34,464.03 268.74,464.04 269.14,464.05 269.53,464.07 269.93,464.08 270.33,464.09 270.73,464.11 271.13,464.12 271.52,464.14 271.92,464.15 272.32,464.16 272.72,464.18 273.12,464.19 273.51,464.2 273.91,464.22 274.31,464.23 274.71,464.25 275.11,464.26 275.5,464.27 275.9,464.29 276.3,464.3 276.65,458.58 277,452.87 277.35,447.15 277.7,441.43 278.05,435.72 278.4,430 278.77,435.6 279.15,441.14 279.52,446.56 279.89,451.8 280.27,456.8 280.64,461.51 281.01,465.87 281.39,469.83 281.76,473.36 282.13,476.42 282.51,478.97 282.88,480.98 283.25,482.43 283.63,483.31 284,483.6 284.39,483.27 284.77,482.31 285.16,480.76 285.54,478.71 285.93,476.24 286.31,473.49 286.7,470.6 287.09,467.71 287.47,464.96 287.86,462.49 288.24,460.44 288.63,458.89 289.01,457.93 289.4,457.6 289.78,457.75 290.16,458.19 290.54,458.9 290.91,459.84 291.29,460.97 291.67,462.23 292.05,463.55 292.43,464.87 292.81,466.13 293.19,467.26 293.56,468.2 293.94,468.91 294.32,469.35 294.7,469.5 295.09,469.41 295.47,469.16 295.86,468.75 296.24,468.2 296.63,467.55 297.01,466.82 297.4,466.05 297.79,465.28 298.17,464.55 298.56,463.9 298.94,463.35 299.33,462.94 299.71,462.69 300.1,462.6 300.48,462.64 300.86,462.75 301.24,462.94 301.61,463.18 301.99,463.48 302.37,463.81 302.75,464.15 303.13,464.49 303.51,464.82 303.89,465.12 304.26,465.36 304.64,465.55 305.02,465.66 305.4,465.7 305.79,465.67 306.18,465.58 306.58,465.44 306.97,465.25 307.36,465.02 307.75,464.78 308.15,464.52 308.54,464.28 308.93,464.05 309.32,463.86 309.72,463.72 310.11,463.63 310.5,463.6 310.89,463.62 311.29,463.66 311.68,463.74 312.07,463.84 312.46,463.97 312.86,464.11 313.25,464.25 313.64,464.39 314.04,464.53 314.43,464.66 314.82,464.76 315.21,464.84 315.61,464.88 316,464.9 316.38,464.89 316.77,464.85 317.15,464.8 317.54,464.73 317.92,464.64 318.31,464.55 318.69,464.45 319.08,464.36 319.46,464.27 319.85,464.2 320.23,464.15 320.62,464.11 321,464.1 321.4,464.11 321.8,464.11 322.19,464.12 322.59,464.13 322.99,464.14 323.39,464.14 323.78,464.15 324.18,464.16 324.58,464.16 324.98,464.17 325.37,464.18 325.77,464.19 326.17,464.19 326.57,464.2 326.96,464.21 327.36,464.21 327.76,464.22 328.16,464.23 328.55,464.24 328.95,464.24 329.35,464.25 329.75,464.26 330.15,464.26 330.54,464.27 330.94,464.28 331.34,464.29 331.74,464.29 332.13,464.3 332.53,464.31 332.93,464.31 333.33,464.32 333.72,464.33 334.12,464.34 334.52,464.34 334.92,464.35 335.31,464.36 335.71,464.36 336.11,464.37 336.51,464.38 336.9,464.39 337.3,464.39 337.7,464.4" fill="none" stroke="#ff00ff" stroke-width="3.4" stroke-linejoin="round" stroke-linecap="butt" clip-path="url(#cb1)"/>
<rect x="34.6" y="432.3" width="85.6" height="14.9" fill="#ffffff" stroke="#161616" stroke-width="1.2"/>
<line x1="38.4" y1="439.7" x2="67" y2="439.7" stroke="#ff00ff" stroke-width="3"/>
<text transform="translate(69.8 443.2)" font-family="Liberation Serif" font-size="11.2" font-weight="bold" text-anchor="start" fill="#1a1a1a" textLength="46.4" lengthAdjust="spacingAndGlyphs" stroke="#1a1a1a" stroke-width="0.15">SP-ISE1.4</text>
<text transform="translate(33.8 501) scale(1.000 0.930)" font-family="Liberation Serif" font-size="11.2" font-weight="bold" text-anchor="middle" fill="#1a1a1a" stroke="#1a1a1a" stroke-width="0.15">0</text>
<text transform="translate(94.38 501) scale(1.000 0.930)" font-family="Liberation Serif" font-size="11.2" font-weight="bold" text-anchor="middle" fill="#1a1a1a" stroke="#1a1a1a" stroke-width="0.15">10</text>
<text transform="translate(154.96 501) scale(1.000 0.930)" font-family="Liberation Serif" font-size="11.2" font-weight="bold" text-anchor="middle" fill="#1a1a1a" stroke="#1a1a1a" stroke-width="0.15">20</text>
<text transform="translate(215.54 501) scale(1.000 0.930)" font-family="Liberation Serif" font-size="11.2" font-weight="bold" text-anchor="middle" fill="#1a1a1a" stroke="#1a1a1a" stroke-width="0.15">30</text>
<text transform="translate(276.12 501) scale(1.000 0.930)" font-family="Liberation Serif" font-size="11.2" font-weight="bold" text-anchor="middle" fill="#1a1a1a" stroke="#1a1a1a" stroke-width="0.15">40</text>
<text transform="translate(336.7 501) scale(1.000 0.930)" font-family="Liberation Serif" font-size="11.2" font-weight="bold" text-anchor="middle" fill="#1a1a1a" stroke="#1a1a1a" stroke-width="0.15">50</text>
<text transform="translate(29.9 444.7) scale(0.970 0.930)" font-family="Liberation Serif" font-size="11.2" font-weight="bold" text-anchor="end" fill="#1a1a1a" stroke="#1a1a1a" stroke-width="0.15">0.2</text>
<text transform="translate(29.9 456.4) scale(0.970 0.930)" font-family="Liberation Serif" font-size="11.2" font-weight="bold" text-anchor="end" fill="#1a1a1a" stroke="#1a1a1a" stroke-width="0.15">0.1</text>
<text transform="translate(29.9 468.1) scale(0.970 0.930)" font-family="Liberation Serif" font-size="11.2" font-weight="bold" text-anchor="end" fill="#1a1a1a" stroke="#1a1a1a" stroke-width="0.15">0</text>
<text transform="translate(29.9 479.8) scale(0.970 0.930)" font-family="Liberation Serif" font-size="11.2" font-weight="bold" text-anchor="end" fill="#1a1a1a" stroke="#1a1a1a" stroke-width="0.15">-0.1</text>
<text transform="translate(7.7 458.35) rotate(-90) scale(0.950 1.000)" font-family="Liberation Serif" font-size="11" font-weight="bold" text-anchor="middle" fill="#1a1a1a" stroke="#1a1a1a" stroke-width="0.15">Delta F</text>
<rect x="33.8" y="509.3" width="302.9" height="56.8" fill="#f5deba"/>
<line x1="94.38" y1="509.3" x2="94.38" y2="566.1" stroke="rgb(220,203,170)" stroke-width="1.3"/>
<line x1="154.96" y1="509.3" x2="154.96" y2="566.1" stroke="rgb(220,203,170)" stroke-width="1.3"/>
<line x1="215.54" y1="509.3" x2="215.54" y2="566.1" stroke="rgb(220,203,170)" stroke-width="1.3"/>
<line x1="276.12" y1="509.3" x2="276.12" y2="566.1" stroke="rgb(220,203,170)" stroke-width="1.3"/>
<line x1="33.8" y1="537.7" x2="336.7" y2="537.7" stroke="rgb(220,203,170)" stroke-width="1.3"/>
<clipPath id="cb2"><rect x="33.8" y="506.3" width="303.7" height="62.8"/></clipPath>
<path d="M94.38 566.1v-3.4M94.38 509.3v3.4M154.96 566.1v-3.4M154.96 509.3v3.4M215.54 566.1v-3.4M215.54 509.3v3.4M276.12 566.1v-3.4M276.12 509.3v3.4M33.8 537.7h3.4M336.7 537.7h-3.4" stroke="#161616" stroke-width="1.17" fill="none"/>
<rect x="33.8" y="509.3" width="302.9" height="56.8" fill="none" stroke="#161616" stroke-width="1.3"/>
<path d="M33.8,537.6 34.2,537.6 34.6,537.6 35,537.6 35.39,537.6 35.79,537.6 36.19,537.6 36.59,537.6 36.99,537.6 37.39,537.6 37.79,537.6 38.19,537.6 38.58,537.6 38.98,537.6 39.38,537.6 39.78,537.6 40.18,537.6 40.58,537.6 40.98,537.6 41.38,537.6 41.77,537.6 42.17,537.6 42.57,537.6 42.97,537.6 43.37,537.6 43.77,537.6 44.17,537.6 44.56,537.6 44.96,537.6 45.36,537.6 45.76,537.6 46.16,537.6 46.56,537.6 46.96,537.6 47.36,537.6 47.75,537.6 48.15,537.6 48.55,537.6 48.95,537.6 49.35,537.6 49.75,537.6 50.15,537.6 50.54,537.6 50.94,537.6 51.34,537.6 51.74,537.6 52.14,537.6 52.54,537.6 52.94,537.6 53.34,537.6 53.73,537.6 54.13,537.6 54.53,537.6 54.93,537.6 55.33,537.6 55.73,537.6 56.13,537.6 56.52,537.6 56.92,537.6 57.32,537.6 57.72,537.6 58.12,537.6 58.52,537.6 58.92,537.6 59.32,537.6 59.71,537.6 60.11,537.6 60.51,537.6 60.91,537.6 61.31,537.6 61.71,537.6 62.11,537.6 62.51,537.6 62.9,537.6 63.3,537.6 63.7,537.6 64.1,537.6 64.5,537.6 64.9,537.6 65.3,537.6 65.69,537.6 66.09,537.6 66.49,537.6 66.89,537.6 67.29,537.6 67.69,537.6 68.09,537.6 68.49,537.6 68.88,537.6 69.28,537.6 69.68,537.6 70.08,537.6 70.48,537.6 70.88,537.6 71.28,537.6 71.68,537.6 72.07,537.6 72.47,537.6 72.87,537.6 73.27,537.6 73.67,537.6 74.07,537.6 74.47,537.6 74.86,537.6 75.26,537.6 75.66,537.6 76.06,537.6 76.46,537.6 76.86,537.6 77.26,537.6 77.66,537.6 78.05,537.6 78.45,537.6 78.85,537.6 79.25,537.6 79.65,537.6 80.05,537.6 80.45,537.6 80.84,537.6 81.24,537.6 81.64,537.6 82.04,537.6 82.44,537.6 82.84,537.6 83.24,537.6 83.64,537.6 84.03,537.6 84.43,537.6 84.83,537.6 85.23,537.6 85.63,537.6 86.03,537.6 86.43,537.6 86.83,537.6 87.22,537.6 87.62,537.6 88.02,537.6 88.42,537.6 88.82,537.6 89.22,537.6 89.62,537.6 90.01,537.6 90.41,537.6 90.81,537.6 91.21,537.6 91.61,537.6 92.01,537.6 92.41,537.6 92.81,537.6 93.2,537.6 93.6,537.6 94,537.6 94.4,537.6 94.78,542.27 95.15,546.95 95.53,551.62 95.9,556.3 96.29,553.1 96.68,549.96 97.08,546.92 97.47,544.05 97.86,541.39 98.25,538.98 98.64,536.86 99.03,535.08 99.42,533.66 99.82,532.63 100.21,532.01 100.6,531.8 100.99,531.92 101.38,532.27 101.77,532.83 102.17,533.55 102.56,534.39 102.95,535.3 103.34,536.21 103.73,537.05 104.12,537.77 104.52,538.33 104.91,538.68 105.3,538.8 105.68,538.77 106.05,538.67 106.43,538.51 106.81,538.3 107.18,538.06 107.56,537.79 107.94,537.51 108.32,537.24 108.69,537 109.07,536.79 109.45,536.63 109.82,536.53 110.2,536.5 110.6,536.52 111,536.57 111.4,536.65 111.8,536.75 112.2,536.87 112.6,537 113,537.13 113.4,537.25 113.8,537.35 114.2,537.43 114.6,537.48 115,537.5 115.4,537.5 115.8,537.5 116.19,537.5 116.59,537.5 116.99,537.5 117.39,537.51 117.79,537.51 118.18,537.51 118.58,537.51 118.98,537.51 119.38,537.51 119.78,537.51 120.17,537.51 120.57,537.51 120.97,537.51 121.37,537.52 121.77,537.52 122.16,537.52 122.56,537.52 122.96,537.52 123.36,537.52 123.76,537.52 124.15,537.52 124.55,537.52 124.95,537.52 125.35,537.53 125.75,537.53 126.14,537.53 126.54,537.53 126.94,537.53 127.34,537.53 127.74,537.53 128.13,537.53 128.53,537.53 128.93,537.53 129.33,537.54 129.73,537.54 130.12,537.54 130.52,537.54 130.92,537.54 131.32,537.54 131.72,537.54 132.11,537.54 132.51,537.54 132.91,537.54 133.31,537.55 133.71,537.55 134.1,537.55 134.5,537.55 134.9,537.55 135.3,537.55 135.7,537.55 136.1,537.55 136.49,537.55 136.89,537.55 137.29,537.56 137.69,537.56 138.09,537.56 138.48,537.56 138.88,537.56 139.28,537.56 139.68,537.56 140.08,537.56 140.47,537.56 140.87,537.56 141.27,537.57 141.67,537.57 142.07,537.57 142.46,537.57 142.86,537.57 143.26,537.57 143.66,537.57 144.06,537.57 144.45,537.57 144.85,537.57 145.25,537.58 145.65,537.58 146.05,537.58 146.44,537.58 146.84,537.58 147.24,537.58 147.64,537.58 148.04,537.58 148.43,537.58 148.83,537.58 149.23,537.59 149.63,537.59 150.03,537.59 150.42,537.59 150.82,537.59 151.22,537.59 151.62,537.59 152.02,537.59 152.41,537.59 152.81,537.59 153.21,537.6 153.61,537.6 154.01,537.6 154.4,537.6 154.8,537.6 155.2,537.6 155.57,538.67 155.93,539.73 156.3,540.8 156.69,539.74 157.08,538.7 157.48,537.7 157.87,536.75 158.26,535.87 158.65,535.07 159.04,534.37 159.43,533.79 159.82,533.32 160.22,532.98 160.61,532.77 161,532.7 161.38,532.75 161.77,532.88 162.15,533.1 162.54,533.39 162.92,533.73 163.31,534.11 163.69,534.49 164.08,534.87 164.46,535.21 164.85,535.5 165.23,535.72 165.62,535.85 166,535.9 166.39,535.88 166.78,535.82 167.17,535.73 167.56,535.61 167.94,535.49 168.33,535.38 168.72,535.28 169.11,535.22 169.5,535.2 169.89,535.24 170.28,535.28 170.68,535.31 171.07,535.35 171.46,535.39 171.85,535.43 172.24,535.46 172.64,535.5 173.03,535.54 173.42,535.58 173.81,535.62 174.2,535.65 174.59,535.69 174.99,535.73 175.38,535.77 175.77,535.81 176.16,535.84 176.55,535.88 176.95,535.92 177.34,535.96 177.73,535.99 178.12,536.03 178.51,536.07 178.91,536.11 179.3,536.15 179.69,536.18 180.08,536.22 180.47,536.26 180.86,536.3 181.26,536.34 181.65,536.37 182.04,536.41 182.43,536.45 182.82,536.49 183.22,536.52 183.61,536.56 184,536.6 184.4,536.62 184.8,536.63 185.2,536.65 185.6,536.67 186,536.69 186.4,536.71 186.8,536.72 187.2,536.74 187.6,536.76 188,536.77 188.4,536.79 188.8,536.81 189.2,536.83 189.6,536.85 190,536.86 190.4,536.88 190.8,536.9 191.2,536.91 191.6,536.93 192,536.95 192.4,536.97 192.8,536.99 193.2,537 193.6,537.02 194,537.04 194.4,537.05 194.8,537.07 195.2,537.09 195.6,537.11 196,537.12 196.4,537.14 196.8,537.16 197.2,537.18 197.6,537.19 198,537.21 198.4,537.23 198.8,537.25 199.2,537.26 199.6,537.28 200,537.3 200.4,537.31 200.79,537.31 201.19,537.32 201.59,537.33 201.99,537.34 202.38,537.34 202.78,537.35 203.18,537.36 203.58,537.37 203.97,537.38 204.37,537.38 204.77,537.39 205.17,537.4 205.56,537.4 205.96,537.41 206.36,537.42 206.76,537.43 207.16,537.43 207.55,537.44 207.95,537.45 208.35,537.46 208.75,537.47 209.14,537.47 209.54,537.48 209.94,537.49 210.34,537.5 210.73,537.5 211.13,537.51 211.53,537.52 211.93,537.52 212.32,537.53 212.72,537.54 213.12,537.55 213.52,537.56 213.91,537.56 214.31,537.57 214.71,537.58 215.11,537.59 215.5,537.59 215.9,537.6 216.3,541.8 216.7,546 217.1,550.2 217.49,547.8 217.88,545.44 218.28,543.16 218.67,541 219.06,539 219.45,537.19 219.84,535.6 220.23,534.27 220.62,533.2 221.02,532.43 221.41,531.96 221.8,531.8 222.18,531.88 222.55,532.12 222.93,532.5 223.31,533.01 223.68,533.61 224.06,534.26 224.44,534.94 224.82,535.59 225.19,536.19 225.57,536.7 225.95,537.08 226.32,537.32 226.7,537.4 227.07,537.37 227.43,537.27 227.8,537.12 228.17,536.92 228.53,536.7 228.9,536.45 229.27,536.2 229.63,535.98 230,535.78 230.37,535.63 230.73,535.53 231.1,535.5 231.48,535.51 231.85,535.54 232.23,535.59 232.61,535.65 232.98,535.73 233.36,535.81 233.74,535.89 234.12,535.97 234.49,536.05 234.87,536.11 235.25,536.16 235.62,536.19 236,536.2 236.4,536.21 236.8,536.22 237.2,536.23 237.6,536.25 238,536.26 238.4,536.27 238.8,536.28 239.2,536.29 239.6,536.3 240,536.31 240.4,536.33 240.8,536.34 241.2,536.35 241.6,536.36 242,536.37 242.4,536.38 242.8,536.39 243.2,536.41 243.6,536.42 244,536.43 244.4,536.44 244.8,536.45 245.2,536.46 245.6,536.47 246,536.49 246.4,536.5 246.8,536.51 247.2,536.52 247.6,536.53 248,536.54 248.4,536.55 248.8,536.57 249.2,536.58 249.6,536.59 250,536.6 250.4,536.61 250.8,536.62 251.2,536.63 251.59,536.64 251.99,536.65 252.39,536.66 252.79,536.67 253.19,536.68 253.59,536.7 253.98,536.71 254.38,536.72 254.78,536.73 255.18,536.74 255.58,536.75 255.98,536.76 256.38,536.77 256.77,536.78 257.17,536.79 257.57,536.8 257.97,536.81 258.37,536.82 258.77,536.83 259.17,536.84 259.56,536.85 259.96,536.87 260.36,536.88 260.76,536.89 261.16,536.9 261.56,536.91 261.95,536.92 262.35,536.93 262.75,536.94 263.15,536.95 263.55,536.96 263.95,536.97 264.35,536.98 264.74,536.99 265.14,537 265.54,537.01 265.94,537.02 266.34,537.03 266.74,537.05 267.13,537.06 267.53,537.07 267.93,537.08 268.33,537.09 268.73,537.1 269.13,537.11 269.53,537.12 269.92,537.13 270.32,537.14 270.72,537.15 271.12,537.16 271.52,537.17 271.92,537.18 272.32,537.19 272.71,537.2 273.11,537.22 273.51,537.23 273.91,537.24 274.31,537.25 274.71,537.26 275.1,537.27 275.5,537.28 275.9,537.29 276.3,537.3 276.7,530.38 277.1,523.45 277.5,516.52 277.9,509.6 278.27,514.31 278.65,518.94 279.02,523.41 279.4,527.65 279.77,531.58 280.15,535.13 280.52,538.24 280.9,540.86 281.27,542.95 281.65,544.47 282.02,545.39 282.4,545.7 282.77,545.56 283.14,545.13 283.51,544.46 283.88,543.56 284.25,542.51 284.62,541.35 284.98,540.15 285.35,538.99 285.72,537.94 286.09,537.04 286.46,536.37 286.83,535.94 287.2,535.8 287.57,535.85 287.93,536.01 288.3,536.25 288.67,536.57 289.03,536.95 289.4,537.35 289.77,537.75 290.13,538.12 290.5,538.45 290.87,538.69 291.23,538.85 291.6,538.9 291.98,538.89 292.35,538.84 292.73,538.77 293.11,538.68 293.48,538.58 293.86,538.46 294.24,538.34 294.62,538.22 294.99,538.12 295.37,538.03 295.75,537.96 296.12,537.91 296.5,537.9 296.89,537.9 297.29,537.9 297.68,537.9 298.07,537.9 298.47,537.9 298.86,537.9 299.26,537.9 299.65,537.9 300.04,537.9 300.44,537.9 300.83,537.9 301.22,537.9 301.62,537.9 302.01,537.9 302.4,537.9 302.8,537.9 303.19,537.9 303.59,537.9 303.98,537.9 304.37,537.9 304.77,537.9 305.16,537.9 305.55,537.9 305.95,537.9 306.34,537.9 306.73,537.9 307.13,537.9 307.52,537.9 307.91,537.9 308.31,537.9 308.7,537.9 309.1,537.9 309.49,537.9 309.88,537.9 310.28,537.9 310.67,537.9 311.06,537.9 311.46,537.9 311.85,537.9 312.24,537.9 312.64,537.9 313.03,537.9 313.43,537.9 313.82,537.9 314.21,537.9 314.61,537.9 315,537.9 315.4,537.89 315.8,537.89 316.19,537.88 316.59,537.87 316.99,537.86 317.39,537.86 317.79,537.85 318.19,537.84 318.58,537.84 318.98,537.83 319.38,537.82 319.78,537.82 320.18,537.81 320.58,537.8 320.97,537.79 321.37,537.79 321.77,537.78 322.17,537.77 322.57,537.77 322.96,537.76 323.36,537.75 323.76,537.75 324.16,537.74 324.56,537.73 324.96,537.72 325.35,537.72 325.75,537.71 326.15,537.7 326.55,537.7 326.95,537.69 327.35,537.68 327.74,537.68 328.14,537.67 328.54,537.66 328.94,537.65 329.34,537.65 329.74,537.64 330.13,537.63 330.53,537.63 330.93,537.62 331.33,537.61 331.73,537.61 332.12,537.6 332.52,537.59 332.92,537.58 333.32,537.58 333.72,537.57 334.12,537.56 334.51,537.56 334.91,537.55 335.31,537.54 335.71,537.54 336.11,537.53 336.51,537.52 336.9,537.51 337.3,537.51 337.7,537.5" fill="none" stroke="#ff0000" stroke-width="3.4" stroke-linejoin="round" stroke-linecap="butt" clip-path="url(#cb2)"/>
<rect x="34.6" y="512.2" width="95.2" height="15.1" fill="#ffffff" stroke="#161616" stroke-width="1.2"/>
<line x1="37" y1="519.7" x2="65.9" y2="519.7" stroke="#ff0000" stroke-width="3"/>
<text transform="translate(68.8 523.2)" font-family="Liberation Serif" font-size="11.2" font-weight="bold" text-anchor="start" fill="#1a1a1a" textLength="57" lengthAdjust="spacingAndGlyphs" stroke="#1a1a1a" stroke-width="0.15">LDR-ISE1.4</text>
<text transform="translate(33.8 580.3) scale(1.000 0.930)" font-family="Liberation Serif" font-size="11.2" font-weight="bold" text-anchor="middle" fill="#1a1a1a" stroke="#1a1a1a" stroke-width="0.15">0</text>
<text transform="translate(94.38 580.3) scale(1.000 0.930)" font-family="Liberation Serif" font-size="11.2" font-weight="bold" text-anchor="middle" fill="#1a1a1a" stroke="#1a1a1a" stroke-width="0.15">10</text>
<text transform="translate(154.96 580.3) scale(1.000 0.930)" font-family="Liberation Serif" font-size="11.2" font-weight="bold" text-anchor="middle" fill="#1a1a1a" stroke="#1a1a1a" stroke-width="0.15">20</text>
<text transform="translate(215.54 580.3) scale(1.000 0.930)" font-family="Liberation Serif" font-size="11.2" font-weight="bold" text-anchor="middle" fill="#1a1a1a" stroke="#1a1a1a" stroke-width="0.15">30</text>
<text transform="translate(276.12 580.3) scale(1.000 0.930)" font-family="Liberation Serif" font-size="11.2" font-weight="bold" text-anchor="middle" fill="#1a1a1a" stroke="#1a1a1a" stroke-width="0.15">40</text>
<text transform="translate(336.7 580.3) scale(1.000 0.930)" font-family="Liberation Serif" font-size="11.2" font-weight="bold" text-anchor="middle" fill="#1a1a1a" stroke="#1a1a1a" stroke-width="0.15">50</text>
<text transform="translate(29.9 512.8) scale(0.970 0.930)" font-family="Liberation Serif" font-size="11.2" font-weight="bold" text-anchor="end" fill="#1a1a1a" stroke="#1a1a1a" stroke-width="0.15">0.2</text>
<text transform="translate(29.9 541.6) scale(0.970 0.930)" font-family="Liberation Serif" font-size="11.2" font-weight="bold" text-anchor="end" fill="#1a1a1a" stroke="#1a1a1a" stroke-width="0.15">0</text>
<text transform="translate(29.9 570) scale(0.970 0.930)" font-family="Liberation Serif" font-size="11.2" font-weight="bold" text-anchor="end" fill="#1a1a1a" stroke="#1a1a1a" stroke-width="0.15">-0.2</text>
<text transform="translate(7.7 537.8) rotate(-90) scale(0.950 1.000)" font-family="Liberation Serif" font-size="11" font-weight="bold" text-anchor="middle" fill="#1a1a1a" stroke="#1a1a1a" stroke-width="0.15">Delta F</text>
<rect x="33.8" y="588.8" width="302.9" height="56.6" fill="#f5deba"/>
<line x1="94.38" y1="588.8" x2="94.38" y2="645.4" stroke="rgb(220,203,170)" stroke-width="1.3"/>
<line x1="154.96" y1="588.8" x2="154.96" y2="645.4" stroke="rgb(220,203,170)" stroke-width="1.3"/>
<line x1="215.54" y1="588.8" x2="215.54" y2="645.4" stroke="rgb(220,203,170)" stroke-width="1.3"/>
<line x1="276.12" y1="588.8" x2="276.12" y2="645.4" stroke="rgb(220,203,170)" stroke-width="1.3"/>
<line x1="33.8" y1="600.4" x2="336.7" y2="600.4" stroke="rgb(220,203,170)" stroke-width="1.3"/>
<line x1="33.8" y1="622.9" x2="336.7" y2="622.9" stroke="rgb(220,203,170)" stroke-width="1.3"/>
<clipPath id="cb3"><rect x="33.8" y="585.8" width="303.7" height="62.6"/></clipPath>
<path d="M94.38 645.4v-3.4M94.38 588.8v3.4M154.96 645.4v-3.4M154.96 588.8v3.4M215.54 645.4v-3.4M215.54 588.8v3.4M276.12 645.4v-3.4M276.12 588.8v3.4M33.8 600.4h3.4M336.7 600.4h-3.4M33.8 622.9h3.4M336.7 622.9h-3.4" stroke="#161616" stroke-width="1.17" fill="none"/>
<rect x="33.8" y="588.8" width="302.9" height="56.6" fill="none" stroke="#161616" stroke-width="1.3"/>
<path d="M33.8,622.8 34.2,622.8 34.6,622.8 35,622.8 35.39,622.8 35.79,622.8 36.19,622.8 36.59,622.8 36.99,622.8 37.39,622.8 37.79,622.8 38.19,622.8 38.58,622.8 38.98,622.8 39.38,622.8 39.78,622.8 40.18,622.8 40.58,622.8 40.98,622.8 41.38,622.8 41.77,622.8 42.17,622.8 42.57,622.8 42.97,622.8 43.37,622.8 43.77,622.8 44.17,622.8 44.56,622.8 44.96,622.8 45.36,622.8 45.76,622.8 46.16,622.8 46.56,622.8 46.96,622.8 47.36,622.8 47.75,622.8 48.15,622.8 48.55,622.8 48.95,622.8 49.35,622.8 49.75,622.8 50.15,622.8 50.54,622.8 50.94,622.8 51.34,622.8 51.74,622.8 52.14,622.8 52.54,622.8 52.94,622.8 53.34,622.8 53.73,622.8 54.13,622.8 54.53,622.8 54.93,622.8 55.33,622.8 55.73,622.8 56.13,622.8 56.52,622.8 56.92,622.8 57.32,622.8 57.72,622.8 58.12,622.8 58.52,622.8 58.92,622.8 59.32,622.8 59.71,622.8 60.11,622.8 60.51,622.8 60.91,622.8 61.31,622.8 61.71,622.8 62.11,622.8 62.51,622.8 62.9,622.8 63.3,622.8 63.7,622.8 64.1,622.8 64.5,622.8 64.9,622.8 65.3,622.8 65.69,622.8 66.09,622.8 66.49,622.8 66.89,622.8 67.29,622.8 67.69,622.8 68.09,622.8 68.49,622.8 68.88,622.8 69.28,622.8 69.68,622.8 70.08,622.8 70.48,622.8 70.88,622.8 71.28,622.8 71.68,622.8 72.07,622.8 72.47,622.8 72.87,622.8 73.27,622.8 73.67,622.8 74.07,622.8 74.47,622.8 74.86,622.8 75.26,622.8 75.66,622.8 76.06,622.8 76.46,622.8 76.86,622.8 77.26,622.8 77.66,622.8 78.05,622.8 78.45,622.8 78.85,622.8 79.25,622.8 79.65,622.8 80.05,622.8 80.45,622.8 80.84,622.8 81.24,622.8 81.64,622.8 82.04,622.8 82.44,622.8 82.84,622.8 83.24,622.8 83.64,622.8 84.03,622.8 84.43,622.8 84.83,622.8 85.23,622.8 85.63,622.8 86.03,622.8 86.43,622.8 86.83,622.8 87.22,622.8 87.62,622.8 88.02,622.8 88.42,622.8 88.82,622.8 89.22,622.8 89.62,622.8 90.01,622.8 90.41,622.8 90.81,622.8 91.21,622.8 91.61,622.8 92.01,622.8 92.41,622.8 92.81,622.8 93.2,622.8 93.6,622.8 94,622.8 94.4,622.8 94.77,626.55 95.13,630.3 95.5,634.05 95.87,637.8 96.23,641.55 96.6,645.3 96.99,641.16 97.37,637.07 97.76,633.08 98.14,629.25 98.53,625.61 98.91,622.23 99.3,619.14 99.69,616.37 100.07,613.97 100.46,611.96 100.84,610.38 101.23,609.23 101.61,608.53 102,608.3 102.4,608.54 102.8,609.26 103.2,610.41 103.6,611.93 104,613.76 104.4,615.8 104.8,617.95 105.2,620.1 105.6,622.14 106,623.97 106.4,625.49 106.8,626.64 107.2,627.36 107.6,627.6 107.97,627.5 108.35,627.22 108.72,626.76 109.09,626.14 109.47,625.4 109.84,624.56 110.21,623.66 110.59,622.74 110.96,621.84 111.33,621 111.71,620.26 112.08,619.64 112.45,619.18 112.83,618.9 113.2,618.8 113.58,618.87 113.96,619.08 114.34,619.41 114.71,619.85 115.09,620.39 115.47,620.98 115.85,621.6 116.23,622.22 116.61,622.81 116.99,623.35 117.36,623.79 117.74,624.12 118.12,624.33 118.5,624.4 118.88,624.37 119.26,624.27 119.64,624.11 120.02,623.9 120.4,623.65 120.78,623.36 121.16,623.06 121.54,622.74 121.92,622.44 122.3,622.15 122.68,621.9 123.06,621.69 123.44,621.53 123.82,621.43 124.2,621.4 124.58,621.43 124.96,621.51 125.34,621.65 125.71,621.83 126.09,622.05 126.47,622.29 126.85,622.55 127.23,622.81 127.61,623.05 127.99,623.27 128.36,623.45 128.74,623.59 129.12,623.67 129.5,623.7 129.89,623.68 130.29,623.64 130.68,623.56 131.07,623.46 131.46,623.33 131.86,623.19 132.25,623.05 132.64,622.91 133.04,622.77 133.43,622.64 133.82,622.54 134.21,622.46 134.61,622.42 135,622.4 135.39,622.41 135.79,622.43 136.18,622.47 136.57,622.51 136.96,622.57 137.36,622.63 137.75,622.7 138.14,622.77 138.54,622.83 138.93,622.89 139.32,622.93 139.71,622.97 140.11,622.99 140.5,623 140.9,622.99 141.29,622.99 141.69,622.98 142.09,622.98 142.49,622.97 142.88,622.97 143.28,622.96 143.68,622.96 144.08,622.95 144.47,622.95 144.87,622.94 145.27,622.94 145.66,622.93 146.06,622.92 146.46,622.92 146.86,622.91 147.25,622.91 147.65,622.9 148.05,622.9 148.45,622.89 148.84,622.89 149.24,622.88 149.64,622.88 150.04,622.87 150.43,622.86 150.83,622.86 151.23,622.85 151.62,622.85 152.02,622.84 152.42,622.84 152.82,622.83 153.21,622.83 153.61,622.82 154.01,622.82 154.41,622.81 154.8,622.81 155.2,622.8 155.55,623.65 155.9,624.5 156.25,625.35 156.6,626.2 156.98,625.04 157.36,623.89 157.74,622.77 158.11,621.69 158.49,620.67 158.87,619.72 159.25,618.85 159.63,618.07 160.01,617.39 160.39,616.83 160.76,616.38 161.14,616.06 161.52,615.87 161.9,615.8 162.28,615.9 162.66,616.19 163.04,616.65 163.41,617.27 163.79,618.01 164.17,618.83 164.55,619.7 164.93,620.57 165.31,621.39 165.69,622.13 166.06,622.75 166.44,623.21 166.82,623.5 167.2,623.6 167.57,623.57 167.94,623.47 168.31,623.31 168.69,623.09 169.06,622.84 169.43,622.55 169.8,622.25 170.17,621.95 170.54,621.66 170.91,621.41 171.29,621.19 171.66,621.03 172.03,620.93 172.4,620.9 172.78,620.93 173.16,621.02 173.54,621.16 173.91,621.35 174.29,621.58 174.67,621.83 175.05,622.1 175.43,622.37 175.81,622.62 176.19,622.85 176.56,623.04 176.94,623.18 177.32,623.27 177.7,623.3 178.08,623.28 178.46,623.24 178.84,623.16 179.21,623.06 179.59,622.93 179.97,622.79 180.35,622.65 180.73,622.51 181.11,622.37 181.49,622.24 181.86,622.14 182.24,622.06 182.62,622.02 183,622 183.39,622.01 183.79,622.04 184.18,622.1 184.57,622.17 184.96,622.25 185.36,622.35 185.75,622.45 186.14,622.55 186.54,622.65 186.93,622.73 187.32,622.8 187.71,622.86 188.11,622.89 188.5,622.9 188.9,622.9 189.29,622.9 189.69,622.9 190.09,622.89 190.49,622.89 190.88,622.89 191.28,622.89 191.68,622.89 192.07,622.89 192.47,622.89 192.87,622.88 193.27,622.88 193.66,622.88 194.06,622.88 194.46,622.88 194.85,622.88 195.25,622.88 195.65,622.87 196.04,622.87 196.44,622.87 196.84,622.87 197.24,622.87 197.63,622.87 198.03,622.87 198.43,622.86 198.82,622.86 199.22,622.86 199.62,622.86 200.02,622.86 200.41,622.86 200.81,622.86 201.21,622.85 201.6,622.85 202,622.85 202.4,622.85 202.8,622.85 203.19,622.85 203.59,622.84 203.99,622.84 204.38,622.84 204.78,622.84 205.18,622.84 205.58,622.84 205.97,622.84 206.37,622.83 206.77,622.83 207.16,622.83 207.56,622.83 207.96,622.83 208.36,622.83 208.75,622.83 209.15,622.82 209.55,622.82 209.94,622.82 210.34,622.82 210.74,622.82 211.13,622.82 211.53,622.82 211.93,622.81 212.33,622.81 212.72,622.81 213.12,622.81 213.52,622.81 213.91,622.81 214.31,622.81 214.71,622.8 215.11,622.8 215.5,622.8 215.9,622.8 216.24,625.86 216.58,628.92 216.92,631.98 217.26,635.04 217.6,638.1 218,634.95 218.4,631.85 218.8,628.82 219.2,625.91 219.6,623.15 220,620.58 220.4,618.23 220.8,616.13 221.2,614.31 221.6,612.78 222,611.58 222.4,610.7 222.8,610.18 223.2,610 223.57,610.18 223.95,610.7 224.32,611.56 224.69,612.7 225.07,614.07 225.44,615.63 225.81,617.3 226.19,619 226.56,620.67 226.93,622.22 227.31,623.6 227.68,624.74 228.05,625.6 228.43,626.12 228.8,626.3 229.19,626.21 229.59,625.93 229.98,625.48 230.37,624.89 230.76,624.18 231.16,623.38 231.55,622.55 231.94,621.72 232.34,620.92 232.73,620.21 233.12,619.62 233.51,619.17 233.91,618.89 234.3,618.8 234.7,618.87 235.1,619.06 235.5,619.37 235.9,619.78 236.3,620.27 236.7,620.82 237.1,621.4 237.5,621.98 237.9,622.53 238.3,623.02 238.7,623.43 239.1,623.74 239.5,623.93 239.9,624 240.28,623.96 240.65,623.85 241.03,623.67 241.41,623.44 241.78,623.16 242.16,622.86 242.54,622.54 242.92,622.24 243.29,621.96 243.67,621.73 244.05,621.55 244.42,621.44 244.8,621.4 245.19,621.43 245.59,621.5 245.98,621.62 246.37,621.78 246.76,621.97 247.16,622.18 247.55,622.4 247.94,622.62 248.34,622.83 248.73,623.02 249.12,623.18 249.51,623.3 249.91,623.37 250.3,623.4 250.68,623.39 251.06,623.36 251.44,623.3 251.82,623.23 252.2,623.15 252.58,623.05 252.96,622.95 253.34,622.85 253.72,622.75 254.1,622.65 254.48,622.57 254.86,622.5 255.24,622.44 255.62,622.41 256,622.4 256.38,622.41 256.77,622.43 257.15,622.48 257.54,622.53 257.92,622.59 258.31,622.66 258.69,622.74 259.08,622.81 259.46,622.87 259.85,622.92 260.23,622.97 260.62,622.99 261,623 261.39,622.99 261.78,622.99 262.18,622.98 262.57,622.98 262.96,622.97 263.35,622.97 263.75,622.96 264.14,622.96 264.53,622.95 264.92,622.95 265.32,622.94 265.71,622.94 266.1,622.93 266.49,622.93 266.88,622.92 267.28,622.92 267.67,622.91 268.06,622.91 268.45,622.9 268.85,622.9 269.24,622.89 269.63,622.89 270.02,622.88 270.42,622.88 270.81,622.87 271.2,622.87 271.59,622.86 271.98,622.86 272.38,622.85 272.77,622.85 273.16,622.84 273.55,622.84 273.95,622.83 274.34,622.83 274.73,622.82 275.12,622.82 275.52,622.81 275.91,622.81 276.3,622.8 276.64,617.13 276.98,611.47 277.33,605.8 277.67,600.13 278.01,594.47 278.35,588.8 278.73,594.62 279.1,600.38 279.48,606.01 279.86,611.46 280.23,616.65 280.61,621.54 280.99,626.07 281.36,630.19 281.74,633.86 282.12,637.04 282.49,639.68 282.87,641.77 283.25,643.28 283.62,644.19 284,644.5 284.4,644.07 284.8,642.79 285.2,640.74 285.6,638.04 286,634.85 286.4,631.35 286.8,627.75 287.2,624.25 287.6,621.06 288,618.36 288.4,616.31 288.8,615.03 289.2,614.6 289.59,614.78 289.99,615.29 290.38,616.13 290.77,617.24 291.16,618.56 291.56,620.04 291.95,621.6 292.34,623.16 292.74,624.64 293.13,625.96 293.52,627.07 293.91,627.91 294.31,628.42 294.7,628.6 295.09,628.5 295.49,628.2 295.88,627.72 296.27,627.08 296.66,626.31 297.06,625.45 297.45,624.55 297.84,623.65 298.24,622.79 298.63,622.02 299.02,621.38 299.41,620.9 299.81,620.6 300.2,620.5 300.59,620.55 300.97,620.71 301.36,620.97 301.74,621.31 302.13,621.72 302.51,622.17 302.9,622.65 303.29,623.13 303.67,623.58 304.06,623.99 304.44,624.33 304.83,624.59 305.21,624.75 305.6,624.8 306,624.76 306.4,624.63 306.8,624.42 307.2,624.15 307.6,623.83 308,623.48 308.4,623.12 308.8,622.77 309.2,622.45 309.6,622.18 310,621.97 310.4,621.84 310.8,621.8 311.19,621.82 311.57,621.88 311.96,621.97 312.34,622.1 312.73,622.25 313.11,622.42 313.5,622.6 313.89,622.78 314.27,622.95 314.66,623.1 315.04,623.23 315.43,623.32 315.81,623.38 316.2,623.4 316.58,623.39 316.96,623.36 317.34,623.3 317.71,623.23 318.09,623.15 318.47,623.05 318.85,622.95 319.23,622.85 319.61,622.75 319.99,622.67 320.36,622.6 320.74,622.54 321.12,622.51 321.5,622.5 321.89,622.51 322.29,622.52 322.68,622.55 323.07,622.59 323.46,622.64 323.86,622.69 324.25,622.75 324.64,622.81 325.04,622.86 325.43,622.91 325.82,622.95 326.21,622.98 326.61,622.99 327,623 327.4,622.99 327.79,622.99 328.19,622.98 328.59,622.97 328.98,622.96 329.38,622.96 329.77,622.95 330.17,622.94 330.57,622.93 330.96,622.93 331.36,622.92 331.76,622.91 332.15,622.9 332.55,622.9 332.94,622.89 333.34,622.88 333.74,622.87 334.13,622.87 334.53,622.86 334.93,622.85 335.32,622.84 335.72,622.84 336.11,622.83 336.51,622.82 336.91,622.81 337.3,622.81 337.7,622.8" fill="none" stroke="#0000ff" stroke-width="3.4" stroke-linejoin="round" stroke-linecap="butt" clip-path="url(#cb3)"/>
<rect x="35.4" y="591.2" width="93.6" height="14.9" fill="#ffffff" stroke="#161616" stroke-width="1.2"/>
<line x1="38.9" y1="598.5" x2="67.7" y2="598.5" stroke="#0000ff" stroke-width="3"/>
<text transform="translate(70.6 602)" font-family="Liberation Serif" font-size="11.2" font-weight="bold" text-anchor="start" fill="#1a1a1a" textLength="54.3" lengthAdjust="spacingAndGlyphs" stroke="#1a1a1a" stroke-width="0.15">SP-ITSE1.4</text>
<text transform="translate(33.8 659.6) scale(1.000 0.930)" font-family="Liberation Serif" font-size="11.2" font-weight="bold" text-anchor="middle" fill="#1a1a1a" stroke="#1a1a1a" stroke-width="0.15">0</text>
<text transform="translate(94.38 659.6) scale(1.000 0.930)" font-family="Liberation Serif" font-size="11.2" font-weight="bold" text-anchor="middle" fill="#1a1a1a" stroke="#1a1a1a" stroke-width="0.15">10</text>
<text transform="translate(154.96 659.6) scale(1.000 0.930)" font-family="Liberation Serif" font-size="11.2" font-weight="bold" text-anchor="middle" fill="#1a1a1a" stroke="#1a1a1a" stroke-width="0.15">20</text>
<text transform="translate(215.54 659.6) scale(1.000 0.930)" font-family="Liberation Serif" font-size="11.2" font-weight="bold" text-anchor="middle" fill="#1a1a1a" stroke="#1a1a1a" stroke-width="0.15">30</text>
<text transform="translate(276.12 659.6) scale(1.000 0.930)" font-family="Liberation Serif" font-size="11.2" font-weight="bold" text-anchor="middle" fill="#1a1a1a" stroke="#1a1a1a" stroke-width="0.15">40</text>
<text transform="translate(336.7 659.6) scale(1.000 0.930)" font-family="Liberation Serif" font-size="11.2" font-weight="bold" text-anchor="middle" fill="#1a1a1a" stroke="#1a1a1a" stroke-width="0.15">50</text>
<text transform="translate(29.9 604.3) scale(0.970 0.930)" font-family="Liberation Serif" font-size="11.2" font-weight="bold" text-anchor="end" fill="#1a1a1a" stroke="#1a1a1a" stroke-width="0.15">0.2</text>
<text transform="translate(29.9 626.8) scale(0.970 0.930)" font-family="Liberation Serif" font-size="11.2" font-weight="bold" text-anchor="end" fill="#1a1a1a" stroke="#1a1a1a" stroke-width="0.15">0</text>
<text transform="translate(29.9 649.3) scale(0.970 0.930)" font-family="Liberation Serif" font-size="11.2" font-weight="bold" text-anchor="end" fill="#1a1a1a" stroke="#1a1a1a" stroke-width="0.15">-0.2</text>
<text transform="translate(7.7 617.2) rotate(-90) scale(0.950 1.000)" font-family="Liberation Serif" font-size="11" font-weight="bold" text-anchor="middle" fill="#1a1a1a" stroke="#1a1a1a" stroke-width="0.15">Delta F</text>
<text transform="translate(185.5 673.1)" font-family="Liberation Serif" font-size="11.3" font-weight="bold" text-anchor="middle" fill="#1a1a1a" textLength="68" lengthAdjust="spacingAndGlyphs" stroke="#1a1a1a" stroke-width="0.15">Time (seconds)</text>
<text transform="translate(77.4 693)" font-family="Liberation Sans" font-size="12.2" font-weight="bold" text-anchor="start" fill="#1a1a1a" textLength="16.1" lengthAdjust="spacingAndGlyphs">(b)</text>
<text transform="translate(99.7 693)" font-family="Liberation Serif" font-size="12.6" font-weight="normal" text-anchor="start" fill="#222222" textLength="54.9" lengthAdjust="spacingAndGlyphs">Frequency</text>
<text transform="translate(160.2 693)" font-family="Liberation Serif" font-size="12.6" font-weight="normal" text-anchor="start" fill="#222222" textLength="46.5" lengthAdjust="spacingAndGlyphs">response</text>
<text transform="translate(211.9 693)" font-family="Liberation Serif" font-size="12.6" font-weight="normal" text-anchor="start" fill="#222222" textLength="13.8" lengthAdjust="spacingAndGlyphs">for</text>
<text transform="translate(230.3 693)" font-family="Liberation Serif" font-size="12.6" font-weight="normal" text-anchor="start" fill="#222222" textLength="33.7" lengthAdjust="spacingAndGlyphs">case-4</text>
<rect x="408" y="382.8" width="272.4" height="70.5" fill="#f5deba"/>
<line x1="462.5" y1="382.8" x2="462.5" y2="453.3" stroke="rgb(215,199,166)" stroke-width="1.1"/>
<line x1="517" y1="382.8" x2="517" y2="453.3" stroke="rgb(215,199,166)" stroke-width="1.1"/>
<line x1="571.5" y1="382.8" x2="571.5" y2="453.3" stroke="rgb(215,199,166)" stroke-width="1.1"/>
<line x1="626" y1="382.8" x2="626" y2="453.3" stroke="rgb(215,199,166)" stroke-width="1.1"/>
<line x1="408" y1="391.5" x2="680.4" y2="391.5" stroke="rgb(215,199,166)" stroke-width="1.1"/>
<line x1="408" y1="422.3" x2="680.4" y2="422.3" stroke="rgb(215,199,166)" stroke-width="1.1"/>
<clipPath id="cc0"><rect x="408" y="379.8" width="273.2" height="76.5"/></clipPath>
<path d="M462.5 453.3v-3.2M462.5 382.8v3.2M517 453.3v-3.2M517 382.8v3.2M571.5 453.3v-3.2M571.5 382.8v3.2M626 453.3v-3.2M626 382.8v3.2M408 391.5h3.2M680.4 391.5h-3.2M408 422.3h3.2M680.4 422.3h-3.2" stroke="#161616" stroke-width="1.08" fill="none"/>
<rect x="408" y="382.8" width="272.4" height="70.5" fill="none" stroke="#161616" stroke-width="1.2"/>
<path d="M408,422.3 408.4,422.3 408.8,422.3 409.2,422.3 409.6,422.3 410,422.3 410.4,422.3 410.8,422.3 411.2,422.3 411.6,422.3 412,422.3 412.4,422.3 412.8,422.3 413.2,422.3 413.59,422.3 413.99,422.3 414.39,422.3 414.79,422.3 415.19,422.3 415.59,422.3 415.99,422.3 416.39,422.3 416.79,422.3 417.19,422.3 417.59,422.3 417.99,422.3 418.39,422.3 418.79,422.3 419.19,422.3 419.59,422.3 419.99,422.3 420.39,422.3 420.79,422.3 421.19,422.3 421.59,422.3 421.99,422.3 422.39,422.3 422.79,422.3 423.19,422.3 423.59,422.3 423.99,422.3 424.38,422.3 424.78,422.3 425.18,422.3 425.58,422.3 425.98,422.3 426.38,422.3 426.78,422.3 427.18,422.3 427.58,422.3 427.98,422.3 428.38,422.3 428.78,422.3 429.18,422.3 429.58,422.3 429.98,422.3 430.38,422.3 430.78,422.3 431.18,422.3 431.58,422.3 431.98,422.3 432.38,422.3 432.78,422.3 433.18,422.3 433.58,422.3 433.98,422.3 434.38,422.3 434.78,422.3 435.18,422.3 435.57,422.3 435.97,422.3 436.37,422.3 436.77,422.3 437.17,422.3 437.57,422.3 437.97,422.3 438.37,422.3 438.77,422.3 439.17,422.3 439.57,422.3 439.97,422.3 440.37,422.3 440.77,422.3 441.17,422.3 441.57,422.3 441.97,422.3 442.37,422.3 442.77,422.3 443.17,422.3 443.57,422.3 443.97,422.3 444.37,422.3 444.77,422.3 445.17,422.3 445.57,422.3 445.97,422.3 446.36,422.3 446.76,422.3 447.16,422.3 447.56,422.3 447.96,422.3 448.36,422.3 448.76,422.3 449.16,422.3 449.56,422.3 449.96,422.3 450.36,422.3 450.76,422.3 451.16,422.3 451.56,422.3 451.96,422.3 452.36,422.3 452.76,422.3 453.16,422.3 453.56,422.3 453.96,422.3 454.36,422.3 454.76,422.3 455.16,422.3 455.56,422.3 455.96,422.3 456.36,422.3 456.76,422.3 457.15,422.3 457.55,422.3 457.95,422.3 458.35,422.3 458.75,422.3 459.15,422.3 459.55,422.3 459.95,422.3 460.35,422.3 460.75,422.3 461.15,422.3 461.55,422.3 461.95,422.3 462.35,422.3 462.6,435.88 462.95,439.06 463.3,441.76 463.65,443.57 464,444.2 464.39,443.11 464.78,441.63 465.18,439.79 465.57,437.64 465.96,435.26 466.35,432.74 466.75,430.16 467.14,427.64 467.53,425.26 467.92,423.11 468.32,421.27 468.71,419.79 469.1,418.7 469.48,418.84 469.85,419.25 470.23,419.91 470.61,420.77 470.98,421.8 471.36,422.92 471.74,424.08 472.12,425.2 472.49,426.23 472.87,427.09 473.25,427.75 473.62,428.16 474,428.3 474.38,428.22 474.77,428 475.15,427.65 475.54,427.18 475.92,426.62 476.31,426.01 476.69,425.39 477.08,424.78 477.46,424.22 477.85,423.75 478.23,423.4 478.62,423.18 479,423.1 479.38,423.14 479.77,423.25 480.15,423.42 480.53,423.65 480.92,423.92 481.3,424.2 481.68,424.48 482.07,424.75 482.45,424.98 482.83,425.15 483.22,425.26 483.6,425.3 483.99,425.28 484.38,425.22 484.78,425.12 485.17,425 485.56,424.86 485.95,424.7 486.34,424.54 486.73,424.4 487.12,424.28 487.52,424.18 487.91,424.12 488.3,424.1 488.69,424.11 489.08,424.15 489.48,424.22 489.87,424.3 490.26,424.4 490.65,424.5 491.04,424.6 491.43,424.7 491.82,424.78 492.22,424.85 492.61,424.89 493,424.9 493.39,424.88 493.78,424.87 494.17,424.85 494.56,424.83 494.94,424.82 495.33,424.8 495.72,424.78 496.11,424.77 496.5,424.75 496.89,424.73 497.28,424.72 497.67,424.7 498.06,424.68 498.44,424.67 498.83,424.65 499.22,424.63 499.61,424.62 500,424.6 500.39,424.59 500.78,424.59 501.18,424.58 501.57,424.57 501.96,424.57 502.35,424.56 502.74,424.55 503.13,424.54 503.53,424.54 503.92,424.53 504.31,424.52 504.7,424.52 505.09,424.51 505.49,424.5 505.88,424.5 506.27,424.49 506.66,424.48 507.05,424.47 507.45,424.47 507.84,424.46 508.23,424.45 508.62,424.45 509.01,424.44 509.4,424.43 509.8,424.43 510.19,424.42 510.58,424.41 510.97,424.4 511.36,424.4 511.76,424.39 512.15,424.38 512.54,424.38 512.93,424.37 513.32,424.36 513.72,424.36 514.11,424.35 514.5,424.34 514.89,424.33 515.28,424.33 515.67,424.32 516.07,424.31 516.46,424.31 516.85,424.3 517.1,426.1 517.5,426.88 517.9,427.2 518.28,426.79 518.65,426.23 519.03,425.54 519.41,424.73 519.78,423.83 520.16,422.88 520.54,421.92 520.92,420.97 521.29,420.07 521.67,419.26 522.05,418.57 522.42,418.01 522.8,417.6 523.19,417.64 523.58,417.77 523.97,417.98 524.37,418.25 524.76,418.56 525.15,418.9 525.54,419.24 525.93,419.55 526.33,419.82 526.72,420.03 527.11,420.16 527.5,420.2 527.88,420.17 528.25,420.07 528.63,419.91 529.01,419.7 529.38,419.46 529.76,419.19 530.14,418.91 530.52,418.64 530.89,418.4 531.27,418.19 531.65,418.03 532.02,417.93 532.4,417.9 532.78,417.91 533.17,417.95 533.55,418 533.93,418.07 534.32,418.16 534.7,418.25 535.08,418.34 535.47,418.43 535.85,418.5 536.23,418.55 536.62,418.59 537,418.6 537.4,418.57 537.8,418.54 538.2,418.51 538.6,418.48 539,418.45 539.4,418.42 539.8,418.39 540.2,418.36 540.6,418.33 541,418.3 541.4,418.27 541.8,418.24 542.2,418.21 542.6,418.18 543,418.15 543.4,418.12 543.8,418.09 544.2,418.06 544.6,418.03 545,418 545.4,417.99 545.8,417.99 546.2,417.98 546.6,417.98 547,417.97 547.4,417.96 547.79,417.96 548.19,417.95 548.59,417.95 548.99,417.94 549.39,417.93 549.79,417.93 550.19,417.92 550.59,417.92 550.99,417.91 551.39,417.9 551.79,417.9 552.19,417.89 552.59,417.88 552.98,417.88 553.38,417.87 553.78,417.87 554.18,417.86 554.58,417.85 554.98,417.85 555.38,417.84 555.78,417.84 556.18,417.83 556.58,417.82 556.98,417.82 557.38,417.81 557.78,417.81 558.17,417.8 558.57,417.79 558.97,417.79 559.37,417.78 559.77,417.78 560.17,417.77 560.57,417.76 560.97,417.76 561.37,417.75 561.77,417.75 562.17,417.74 562.57,417.73 562.97,417.73 563.37,417.72 563.76,417.72 564.16,417.71 564.56,417.7 564.96,417.7 565.36,417.69 565.76,417.68 566.16,417.68 566.56,417.67 566.96,417.67 567.36,417.66 567.76,417.65 568.16,417.65 568.56,417.64 568.95,417.64 569.35,417.63 569.75,417.62 570.15,417.62 570.55,417.61 570.95,417.61 571.35,417.6 571.6,426.84 571.92,428.59 572.24,430.17 572.56,431.42 572.88,432.22 573.2,432.5 573.59,431.64 573.98,430.47 574.38,429.01 574.77,427.3 575.16,425.42 575.55,423.42 575.95,421.38 576.34,419.38 576.73,417.5 577.12,415.79 577.52,414.33 577.91,413.16 578.3,412.3 578.68,412.41 579.05,412.72 579.43,413.23 579.81,413.9 580.18,414.69 580.56,415.55 580.94,416.45 581.32,417.31 581.69,418.1 582.07,418.77 582.45,419.28 582.82,419.59 583.2,419.7 583.59,419.63 583.98,419.43 584.38,419.1 584.77,418.68 585.16,418.18 585.55,417.65 585.94,417.12 586.33,416.62 586.73,416.2 587.12,415.87 587.51,415.67 587.9,415.6 588.28,415.63 588.67,415.7 589.05,415.83 589.44,415.99 589.82,416.18 590.21,416.39 590.59,416.61 590.98,416.82 591.36,417.01 591.75,417.17 592.13,417.3 592.52,417.37 592.9,417.4 593.28,417.38 593.67,417.32 594.05,417.22 594.43,417.1 594.82,416.96 595.2,416.8 595.58,416.64 595.97,416.5 596.35,416.38 596.73,416.28 597.12,416.22 597.5,416.2 597.88,416.21 598.25,416.24 598.62,416.29 599,416.35 599.38,416.42 599.75,416.5 600.12,416.58 600.5,416.65 600.88,416.71 601.25,416.76 601.62,416.79 602,416.8 602.39,416.79 602.79,416.77 603.18,416.75 603.58,416.74 603.97,416.73 604.37,416.71 604.76,416.69 605.15,416.68 605.55,416.67 605.94,416.65 606.34,416.63 606.73,416.62 607.12,416.61 607.52,416.59 607.91,416.57 608.31,416.56 608.7,416.55 609.1,416.53 609.49,416.51 609.88,416.5 610.28,416.49 610.67,416.47 611.07,416.45 611.46,416.44 611.85,416.43 612.25,416.41 612.64,416.39 613.04,416.38 613.43,416.37 613.83,416.35 614.22,416.33 614.61,416.32 615.01,416.31 615.4,416.29 615.8,416.27 616.19,416.26 616.58,416.25 616.98,416.23 617.37,416.21 617.77,416.2 618.16,416.19 618.55,416.17 618.95,416.15 619.34,416.14 619.74,416.12 620.13,416.11 620.53,416.09 620.92,416.08 621.31,416.06 621.71,416.05 622.1,416.03 622.5,416.02 622.89,416 623.28,415.99 623.68,415.97 624.07,415.96 624.47,415.94 624.86,415.93 625.26,415.91 625.65,415.9 625.9,395.38 626.25,392.12 626.6,389.09 626.95,386.48 627.3,384.49 627.65,383.23 628,382.8 628.38,384.44 628.77,386.68 629.15,389.46 629.54,392.7 629.92,396.3 630.31,400.11 630.69,403.99 631.08,407.8 631.46,411.4 631.85,414.64 632.23,417.42 632.62,419.66 633,421.3 633.38,421.04 633.77,420.26 634.15,419.03 634.53,417.43 634.92,415.56 635.3,413.55 635.68,411.54 636.07,409.68 636.45,408.07 636.83,406.84 637.22,406.06 637.6,405.8 637.98,405.92 638.37,406.26 638.75,406.82 639.14,407.55 639.52,408.41 639.91,409.36 640.29,410.34 640.68,411.29 641.06,412.15 641.45,412.88 641.83,413.44 642.22,413.78 642.6,413.9 642.98,413.85 643.37,413.69 643.75,413.45 644.13,413.12 644.52,412.75 644.9,412.35 645.28,411.95 645.67,411.57 646.05,411.25 646.43,411.01 646.82,410.85 647.2,410.8 647.6,410.83 648,410.9 648.4,411.02 648.8,411.18 649.2,411.36 649.6,411.54 650,411.72 650.4,411.88 650.8,412 651.2,412.07 651.6,412.1 651.99,412.09 652.37,412.07 652.76,412.02 653.14,411.97 653.53,411.9 653.91,411.83 654.3,411.75 654.69,411.67 655.07,411.6 655.46,411.53 655.84,411.48 656.23,411.43 656.61,411.41 657,411.4 657.38,411.41 657.75,411.44 658.12,411.49 658.5,411.55 658.88,411.62 659.25,411.7 659.62,411.78 660,411.85 660.38,411.91 660.75,411.96 661.12,411.99 661.5,412 661.9,412 662.3,411.99 662.69,411.99 663.09,411.98 663.49,411.98 663.89,411.98 664.29,411.97 664.68,411.97 665.08,411.96 665.48,411.96 665.88,411.96 666.28,411.95 666.67,411.95 667.07,411.94 667.47,411.94 667.87,411.94 668.27,411.93 668.66,411.93 669.06,411.92 669.46,411.92 669.86,411.92 670.26,411.91 670.65,411.91 671.05,411.9 671.45,411.9 671.85,411.9 672.25,411.89 672.64,411.89 673.04,411.88 673.44,411.88 673.84,411.88 674.24,411.87 674.63,411.87 675.03,411.86 675.43,411.86 675.83,411.86 676.23,411.85 676.62,411.85 677.02,411.84 677.42,411.84 677.82,411.84 678.22,411.83 678.61,411.83 679.01,411.82 679.41,411.82 679.81,411.82 680.21,411.81 680.6,411.81 681,411.8 681.4,411.8" fill="none" stroke="#ff00ff" stroke-width="3.05" stroke-linejoin="round" stroke-linecap="butt" clip-path="url(#cc0)"/>
<rect x="597" y="434.5" width="76.6" height="14.1" fill="#ffffff" stroke="#161616" stroke-width="1.2"/>
<line x1="600" y1="441.4" x2="626.3" y2="441.4" stroke="#ff00ff" stroke-width="2.8"/>
<text transform="translate(628.2 444.6)" font-family="Liberation Serif" font-size="9.6" font-weight="bold" text-anchor="start" fill="#1a1a1a" textLength="42.9" lengthAdjust="spacingAndGlyphs" stroke="#1a1a1a" stroke-width="0.15">SP-ISE1.4</text>
<text transform="translate(408 466)" font-family="Liberation Serif" font-size="9.8" font-weight="bold" text-anchor="middle" fill="#1a1a1a" stroke="#1a1a1a" stroke-width="0.15">0</text>
<text transform="translate(462.5 466)" font-family="Liberation Serif" font-size="9.8" font-weight="bold" text-anchor="middle" fill="#1a1a1a" stroke="#1a1a1a" stroke-width="0.15">10</text>
<text transform="translate(517 466)" font-family="Liberation Serif" font-size="9.8" font-weight="bold" text-anchor="middle" fill="#1a1a1a" stroke="#1a1a1a" stroke-width="0.15">20</text>
<text transform="translate(571.5 466)" font-family="Liberation Serif" font-size="9.8" font-weight="bold" text-anchor="middle" fill="#1a1a1a" stroke="#1a1a1a" stroke-width="0.15">30</text>
<text transform="translate(626 466)" font-family="Liberation Serif" font-size="9.8" font-weight="bold" text-anchor="middle" fill="#1a1a1a" stroke="#1a1a1a" stroke-width="0.15">40</text>
<text transform="translate(680.5 466)" font-family="Liberation Serif" font-size="9.8" font-weight="bold" text-anchor="middle" fill="#1a1a1a" stroke="#1a1a1a" stroke-width="0.15">50</text>
<text transform="translate(404.6 394.9)" font-family="Liberation Serif" font-size="9.8" font-weight="bold" text-anchor="end" fill="#1a1a1a" stroke="#1a1a1a" stroke-width="0.15">0.5</text>
<text transform="translate(404.6 425.8)" font-family="Liberation Serif" font-size="9.8" font-weight="bold" text-anchor="end" fill="#1a1a1a" stroke="#1a1a1a" stroke-width="0.15">0</text>
<text transform="translate(404.6 457.2)" font-family="Liberation Serif" font-size="9.8" font-weight="bold" text-anchor="end" fill="#1a1a1a" stroke="#1a1a1a" stroke-width="0.15">-0.5</text>
<text transform="translate(384.3 418.45) rotate(-90) scale(0.900 1.000)" font-family="Liberation Serif" font-size="10.8" font-weight="bold" text-anchor="middle" fill="#1a1a1a" stroke="#1a1a1a" stroke-width="0.15">Delta F</text>
<rect x="408" y="480.9" width="272.4" height="70.4" fill="#f5deba"/>
<line x1="435.43" y1="480.9" x2="435.43" y2="551.3" stroke="rgb(215,199,166)" stroke-width="1.1"/>
<line x1="462.76" y1="480.9" x2="462.76" y2="551.3" stroke="rgb(215,199,166)" stroke-width="1.1"/>
<line x1="490.09" y1="480.9" x2="490.09" y2="551.3" stroke="rgb(215,199,166)" stroke-width="1.1"/>
<line x1="517.42" y1="480.9" x2="517.42" y2="551.3" stroke="rgb(215,199,166)" stroke-width="1.1"/>
<line x1="544.75" y1="480.9" x2="544.75" y2="551.3" stroke="rgb(215,199,166)" stroke-width="1.1"/>
<line x1="572.08" y1="480.9" x2="572.08" y2="551.3" stroke="rgb(215,199,166)" stroke-width="1.1"/>
<line x1="599.41" y1="480.9" x2="599.41" y2="551.3" stroke="rgb(215,199,166)" stroke-width="1.1"/>
<line x1="626.74" y1="480.9" x2="626.74" y2="551.3" stroke="rgb(215,199,166)" stroke-width="1.1"/>
<line x1="654.07" y1="480.9" x2="654.07" y2="551.3" stroke="rgb(215,199,166)" stroke-width="1.1"/>
<line x1="408" y1="491.5" x2="680.4" y2="491.5" stroke="rgb(215,199,166)" stroke-width="1.1"/>
<line x1="408" y1="506.6" x2="680.4" y2="506.6" stroke="rgb(215,199,166)" stroke-width="1.1"/>
<line x1="408" y1="521.3" x2="680.4" y2="521.3" stroke="rgb(215,199,166)" stroke-width="1.1"/>
<line x1="408" y1="536.2" x2="680.4" y2="536.2" stroke="rgb(215,199,166)" stroke-width="1.1"/>
<clipPath id="cc1"><rect x="408" y="477.9" width="273.2" height="76.4"/></clipPath>
<path d="M435.43 551.3v-3.2M435.43 480.9v3.2M462.76 551.3v-3.2M462.76 480.9v3.2M490.09 551.3v-3.2M490.09 480.9v3.2M517.42 551.3v-3.2M517.42 480.9v3.2M544.75 551.3v-3.2M544.75 480.9v3.2M572.08 551.3v-3.2M572.08 480.9v3.2M599.41 551.3v-3.2M599.41 480.9v3.2M626.74 551.3v-3.2M626.74 480.9v3.2M654.07 551.3v-3.2M654.07 480.9v3.2M408 491.5h3.2M680.4 491.5h-3.2M408 506.6h3.2M680.4 506.6h-3.2M408 521.3h3.2M680.4 521.3h-3.2M408 536.2h3.2M680.4 536.2h-3.2" stroke="#161616" stroke-width="1.08" fill="none"/>
<rect x="408" y="480.9" width="272.4" height="70.4" fill="none" stroke="#161616" stroke-width="1.2"/>
<path d="M408,521.5 408.4,521.5 408.8,521.5 409.19,521.5 409.59,521.5 409.99,521.5 410.39,521.5 410.78,521.5 411.18,521.5 411.58,521.5 411.98,521.5 412.38,521.5 412.77,521.5 413.17,521.5 413.57,521.5 413.97,521.5 414.37,521.5 414.76,521.5 415.16,521.5 415.56,521.5 415.96,521.5 416.35,521.5 416.75,521.5 417.15,521.5 417.55,521.5 417.95,521.5 418.34,521.5 418.74,521.5 419.14,521.5 419.54,521.5 419.94,521.5 420.33,521.5 420.73,521.5 421.13,521.5 421.53,521.5 421.92,521.5 422.32,521.5 422.72,521.5 423.12,521.5 423.52,521.5 423.91,521.5 424.31,521.5 424.71,521.5 425.11,521.5 425.51,521.5 425.9,521.5 426.3,521.5 426.7,521.5 427.1,521.5 427.49,521.5 427.89,521.5 428.29,521.5 428.69,521.5 429.09,521.5 429.48,521.5 429.88,521.5 430.28,521.5 430.68,521.5 431.07,521.5 431.47,521.5 431.87,521.5 432.27,521.5 432.67,521.5 433.06,521.5 433.46,521.5 433.86,521.5 434.26,521.5 434.66,521.5 435.05,521.5 435.45,521.5 435.85,521.5 436.25,521.5 436.64,521.5 437.04,521.5 437.44,521.5 437.84,521.5 438.24,521.5 438.63,521.5 439.03,521.5 439.43,521.5 439.83,521.5 440.23,521.5 440.62,521.5 441.02,521.5 441.42,521.5 441.82,521.5 442.21,521.5 442.61,521.5 443.01,521.5 443.41,521.5 443.81,521.5 444.2,521.5 444.6,521.5 445,521.5 445.4,521.5 445.79,521.5 446.19,521.5 446.59,521.5 446.99,521.5 447.39,521.5 447.78,521.5 448.18,521.5 448.58,521.5 448.98,521.5 449.38,521.5 449.77,521.5 450.17,521.5 450.57,521.5 450.97,521.5 451.36,521.5 451.76,521.5 452.16,521.5 452.56,521.5 452.96,521.5 453.35,521.5 453.75,521.5 454.15,521.5 454.55,521.5 454.95,521.5 455.34,521.5 455.74,521.5 456.14,521.5 456.54,521.5 456.93,521.5 457.33,521.5 457.73,521.5 458.13,521.5 458.53,521.5 458.92,521.5 459.32,521.5 459.72,521.5 460.12,521.5 460.52,521.5 460.91,521.5 461.31,521.5 461.71,521.5 462.11,521.5 462.5,521.5 462.9,521.5 463.3,521.5 463.4,546 463.6,534 463.98,532.28 464.37,530.58 464.75,528.95 465.13,527.4 465.52,525.96 465.9,524.67 466.28,523.53 466.67,522.57 467.05,521.8 467.43,521.25 467.82,520.91 468.2,520.8 468.58,520.85 468.96,521.01 469.35,521.27 469.73,521.59 470.11,521.96 470.49,522.34 470.87,522.71 471.25,523.03 471.64,523.29 472.02,523.45 472.4,523.5 472.78,523.48 473.17,523.42 473.55,523.32 473.93,523.2 474.32,523.06 474.7,522.9 475.08,522.74 475.47,522.6 475.85,522.48 476.23,522.38 476.62,522.32 477,522.3 477.4,522.3 477.8,522.3 478.19,522.31 478.59,522.31 478.99,522.31 479.39,522.31 479.78,522.31 480.18,522.32 480.58,522.32 480.98,522.32 481.37,522.32 481.77,522.32 482.17,522.33 482.57,522.33 482.96,522.33 483.36,522.33 483.76,522.33 484.16,522.34 484.55,522.34 484.95,522.34 485.35,522.34 485.75,522.34 486.14,522.35 486.54,522.35 486.94,522.35 487.34,522.35 487.73,522.35 488.13,522.35 488.53,522.36 488.93,522.36 489.32,522.36 489.72,522.36 490.12,522.36 490.52,522.37 490.91,522.37 491.31,522.37 491.71,522.37 492.11,522.37 492.5,522.38 492.9,522.38 493.3,522.38 493.7,522.38 494.09,522.38 494.49,522.39 494.89,522.39 495.29,522.39 495.68,522.39 496.08,522.39 496.48,522.4 496.88,522.4 497.27,522.4 497.67,522.4 498.07,522.4 498.47,522.41 498.87,522.41 499.26,522.41 499.66,522.41 500.06,522.41 500.46,522.42 500.85,522.42 501.25,522.42 501.65,522.42 502.05,522.42 502.44,522.43 502.84,522.43 503.24,522.43 503.64,522.43 504.03,522.43 504.43,522.44 504.83,522.44 505.23,522.44 505.62,522.44 506.02,522.44 506.42,522.45 506.82,522.45 507.21,522.45 507.61,522.45 508.01,522.45 508.41,522.45 508.8,522.46 509.2,522.46 509.6,522.46 510,522.46 510.39,522.46 510.79,522.47 511.19,522.47 511.59,522.47 511.98,522.47 512.38,522.47 512.78,522.48 513.18,522.48 513.57,522.48 513.97,522.48 514.37,522.48 514.77,522.49 515.16,522.49 515.56,522.49 515.96,522.49 516.36,522.49 516.75,522.5 517.15,522.5 517.55,522.5 517.65,528.6 517.8,526 518.19,525.09 518.58,524.2 518.97,523.34 519.36,522.54 519.75,521.81 520.15,521.16 520.54,520.62 520.93,520.18 521.32,519.86 521.71,519.67 522.1,519.6 522.49,519.63 522.88,519.71 523.27,519.85 523.66,520.01 524.05,520.2 524.44,520.39 524.83,520.55 525.22,520.69 525.61,520.77 526,520.8 526.38,520.79 526.77,520.75 527.15,520.69 527.54,520.61 527.92,520.51 528.31,520.4 528.69,520.3 529.08,520.19 529.46,520.09 529.85,520.01 530.23,519.95 530.62,519.91 531,519.9 531.4,519.9 531.8,519.89 532.2,519.89 532.6,519.89 533,519.89 533.4,519.88 533.8,519.88 534.2,519.88 534.6,519.87 535,519.87 535.4,519.87 535.8,519.87 536.2,519.86 536.6,519.86 537,519.86 537.4,519.85 537.8,519.85 538.2,519.85 538.6,519.85 539,519.84 539.4,519.84 539.8,519.84 540.2,519.83 540.6,519.83 541,519.83 541.4,519.83 541.8,519.82 542.2,519.82 542.6,519.82 543,519.81 543.4,519.81 543.8,519.81 544.2,519.81 544.6,519.8 545,519.8 545.39,519.8 545.79,519.79 546.18,519.79 546.58,519.79 546.97,519.79 547.37,519.78 547.76,519.78 548.15,519.78 548.55,519.77 548.94,519.77 549.34,519.77 549.73,519.77 550.12,519.76 550.52,519.76 550.91,519.76 551.31,519.75 551.7,519.75 552.1,519.75 552.49,519.74 552.88,519.74 553.28,519.74 553.67,519.74 554.07,519.73 554.46,519.73 554.86,519.73 555.25,519.72 555.64,519.72 556.04,519.72 556.43,519.72 556.83,519.71 557.22,519.71 557.61,519.71 558.01,519.7 558.4,519.7 558.8,519.7 559.19,519.7 559.59,519.69 559.98,519.69 560.37,519.69 560.77,519.68 561.16,519.68 561.56,519.68 561.95,519.68 562.34,519.67 562.74,519.67 563.13,519.67 563.53,519.66 563.92,519.66 564.32,519.66 564.71,519.66 565.1,519.65 565.5,519.65 565.89,519.65 566.29,519.64 566.68,519.64 567.08,519.64 567.47,519.63 567.86,519.63 568.26,519.63 568.65,519.63 569.05,519.62 569.44,519.62 569.83,519.62 570.23,519.61 570.62,519.61 571.02,519.61 571.41,519.61 571.81,519.6 572.2,519.6 572.3,538 572.5,529.5 572.88,527.95 573.25,526.42 573.62,524.95 574,523.55 574.38,522.26 574.75,521.09 575.12,520.06 575.5,519.19 575.88,518.51 576.25,518.01 576.62,517.7 577,517.6 577.38,517.65 577.76,517.81 578.14,518.05 578.52,518.36 578.9,518.7 579.28,519.04 579.66,519.35 580.04,519.59 580.42,519.75 580.8,519.8 581.17,519.78 581.54,519.74 581.91,519.67 582.29,519.57 582.66,519.46 583.03,519.33 583.4,519.2 583.77,519.07 584.14,518.94 584.51,518.83 584.89,518.73 585.26,518.66 585.63,518.62 586,518.6 586.4,518.59 586.8,518.58 587.2,518.57 587.6,518.57 588,518.56 588.4,518.55 588.8,518.54 589.2,518.53 589.6,518.52 590,518.51 590.4,518.51 590.8,518.5 591.2,518.49 591.6,518.48 592,518.47 592.4,518.46 592.8,518.45 593.2,518.45 593.6,518.44 594,518.43 594.4,518.42 594.8,518.41 595.2,518.4 595.6,518.39 596,518.39 596.4,518.38 596.8,518.37 597.2,518.36 597.6,518.35 598,518.34 598.4,518.33 598.8,518.33 599.2,518.32 599.6,518.31 600,518.3 600.4,518.29 600.8,518.29 601.2,518.28 601.59,518.28 601.99,518.27 602.39,518.26 602.79,518.26 603.19,518.25 603.59,518.25 603.99,518.24 604.38,518.23 604.78,518.23 605.18,518.22 605.58,518.22 605.98,518.21 606.38,518.2 606.77,518.2 607.17,518.19 607.57,518.19 607.97,518.18 608.37,518.17 608.77,518.17 609.17,518.16 609.56,518.16 609.96,518.15 610.36,518.14 610.76,518.14 611.16,518.13 611.56,518.13 611.96,518.12 612.35,518.11 612.75,518.11 613.15,518.1 613.55,518.1 613.95,518.09 614.35,518.09 614.74,518.08 615.14,518.07 615.54,518.07 615.94,518.06 616.34,518.06 616.74,518.05 617.14,518.04 617.53,518.04 617.93,518.03 618.33,518.03 618.73,518.02 619.13,518.01 619.53,518.01 619.93,518 620.32,518 620.72,517.99 621.12,517.98 621.52,517.98 621.92,517.97 622.32,517.97 622.71,517.96 623.11,517.95 623.51,517.95 623.91,517.94 624.31,517.94 624.71,517.93 625.11,517.92 625.5,517.92 625.9,517.91 626.3,517.91 626.7,517.9 626.8,481.2 627,497 627.38,499.53 627.75,502.03 628.13,504.45 628.51,506.76 628.88,508.93 629.26,510.93 629.64,512.72 630.02,514.28 630.39,515.59 630.77,516.64 631.15,517.39 631.52,517.85 631.9,518 632.3,517.91 632.7,517.67 633.1,517.28 633.5,516.79 633.9,516.25 634.3,515.71 634.7,515.22 635.1,514.83 635.5,514.59 635.9,514.5 636.3,514.57 636.7,514.76 637.1,515.06 637.5,515.43 637.9,515.85 638.3,516.27 638.7,516.64 639.1,516.94 639.5,517.13 639.9,517.2 640.28,517.18 640.67,517.12 641.05,517.02 641.43,516.9 641.82,516.76 642.2,516.6 642.58,516.44 642.97,516.3 643.35,516.18 643.73,516.08 644.12,516.02 644.5,516 644.9,516 645.3,516.01 645.7,516.01 646.1,516.02 646.49,516.02 646.89,516.03 647.29,516.03 647.69,516.03 648.09,516.04 648.49,516.04 648.89,516.05 649.29,516.05 649.69,516.06 650.09,516.06 650.48,516.06 650.88,516.07 651.28,516.07 651.68,516.08 652.08,516.08 652.48,516.09 652.88,516.09 653.28,516.09 653.68,516.1 654.07,516.1 654.47,516.11 654.87,516.11 655.27,516.11 655.67,516.12 656.07,516.12 656.47,516.13 656.87,516.13 657.27,516.14 657.66,516.14 658.06,516.14 658.46,516.15 658.86,516.15 659.26,516.16 659.66,516.16 660.06,516.17 660.46,516.17 660.86,516.17 661.26,516.18 661.65,516.18 662.05,516.19 662.45,516.19 662.85,516.2 663.25,516.2 663.65,516.2 664.05,516.21 664.45,516.21 664.85,516.22 665.24,516.22 665.64,516.23 666.04,516.23 666.44,516.23 666.84,516.24 667.24,516.24 667.64,516.25 668.04,516.25 668.44,516.26 668.84,516.26 669.23,516.26 669.63,516.27 670.03,516.27 670.43,516.28 670.83,516.28 671.23,516.29 671.63,516.29 672.03,516.29 672.43,516.3 672.82,516.3 673.22,516.31 673.62,516.31 674.02,516.31 674.42,516.32 674.82,516.32 675.22,516.33 675.62,516.33 676.02,516.34 676.41,516.34 676.81,516.34 677.21,516.35 677.61,516.35 678.01,516.36 678.41,516.36 678.81,516.37 679.21,516.37 679.61,516.37 680.01,516.38 680.4,516.38 680.8,516.39 681.2,516.39 681.6,516.4 682,516.4" fill="none" stroke="#ff0000" stroke-width="3.3" stroke-linejoin="round" stroke-linecap="butt" clip-path="url(#cc1)"/>
<rect x="587.3" y="532.5" width="86.3" height="13.8" fill="#ffffff" stroke="#161616" stroke-width="1.2"/>
<line x1="590.5" y1="539.4" x2="616.4" y2="539.4" stroke="#ff0000" stroke-width="2.8"/>
<text transform="translate(618.7 542.6)" font-family="Liberation Serif" font-size="9.6" font-weight="bold" text-anchor="start" fill="#1a1a1a" textLength="51.3" lengthAdjust="spacingAndGlyphs" stroke="#1a1a1a" stroke-width="0.15">LDR-ISE1.4</text>
<text transform="translate(408.1 564)" font-family="Liberation Serif" font-size="9.8" font-weight="bold" text-anchor="middle" fill="#1a1a1a" stroke="#1a1a1a" stroke-width="0.15">0</text>
<text transform="translate(435.43 564)" font-family="Liberation Serif" font-size="9.8" font-weight="bold" text-anchor="middle" fill="#1a1a1a" stroke="#1a1a1a" stroke-width="0.15">5</text>
<text transform="translate(462.76 564)" font-family="Liberation Serif" font-size="9.8" font-weight="bold" text-anchor="middle" fill="#1a1a1a" stroke="#1a1a1a" stroke-width="0.15">10</text>
<text transform="translate(490.09 564)" font-family="Liberation Serif" font-size="9.8" font-weight="bold" text-anchor="middle" fill="#1a1a1a" stroke="#1a1a1a" stroke-width="0.15">15</text>
<text transform="translate(517.42 564)" font-family="Liberation Serif" font-size="9.8" font-weight="bold" text-anchor="middle" fill="#1a1a1a" stroke="#1a1a1a" stroke-width="0.15">20</text>
<text transform="translate(544.75 564)" font-family="Liberation Serif" font-size="9.8" font-weight="bold" text-anchor="middle" fill="#1a1a1a" stroke="#1a1a1a" stroke-width="0.15">25</text>
<text transform="translate(572.08 564)" font-family="Liberation Serif" font-size="9.8" font-weight="bold" text-anchor="middle" fill="#1a1a1a" stroke="#1a1a1a" stroke-width="0.15">30</text>
<text transform="translate(599.41 564)" font-family="Liberation Serif" font-size="9.8" font-weight="bold" text-anchor="middle" fill="#1a1a1a" stroke="#1a1a1a" stroke-width="0.15">35</text>
<text transform="translate(626.74 564)" font-family="Liberation Serif" font-size="9.8" font-weight="bold" text-anchor="middle" fill="#1a1a1a" stroke="#1a1a1a" stroke-width="0.15">40</text>
<text transform="translate(654.07 564)" font-family="Liberation Serif" font-size="9.8" font-weight="bold" text-anchor="middle" fill="#1a1a1a" stroke="#1a1a1a" stroke-width="0.15">45</text>
<text transform="translate(404.6 494.7)" font-family="Liberation Serif" font-size="9.8" font-weight="bold" text-anchor="end" fill="#1a1a1a" stroke="#1a1a1a" stroke-width="0.15">1</text>
<text transform="translate(404.6 509.9)" font-family="Liberation Serif" font-size="9.8" font-weight="bold" text-anchor="end" fill="#1a1a1a" stroke="#1a1a1a" stroke-width="0.15">0.5</text>
<text transform="translate(404.6 524.8)" font-family="Liberation Serif" font-size="9.8" font-weight="bold" text-anchor="end" fill="#1a1a1a" stroke="#1a1a1a" stroke-width="0.15">0</text>
<text transform="translate(404.6 539.8)" font-family="Liberation Serif" font-size="9.8" font-weight="bold" text-anchor="end" fill="#1a1a1a" stroke="#1a1a1a" stroke-width="0.15">-0.5</text>
<text transform="translate(384.3 516.5) rotate(-90) scale(0.900 1.000)" font-family="Liberation Serif" font-size="10.8" font-weight="bold" text-anchor="middle" fill="#1a1a1a" stroke="#1a1a1a" stroke-width="0.15">Delta F</text>
<rect x="408" y="578.2" width="272.4" height="70" fill="#f5deba"/>
<line x1="462.5" y1="578.2" x2="462.5" y2="648.2" stroke="rgb(215,199,166)" stroke-width="1.1"/>
<line x1="517" y1="578.2" x2="517" y2="648.2" stroke="rgb(215,199,166)" stroke-width="1.1"/>
<line x1="571.5" y1="578.2" x2="571.5" y2="648.2" stroke="rgb(215,199,166)" stroke-width="1.1"/>
<line x1="626" y1="578.2" x2="626" y2="648.2" stroke="rgb(215,199,166)" stroke-width="1.1"/>
<line x1="408" y1="587.5" x2="680.4" y2="587.5" stroke="rgb(215,199,166)" stroke-width="1.1"/>
<line x1="408" y1="618" x2="680.4" y2="618" stroke="rgb(215,199,166)" stroke-width="1.1"/>
<clipPath id="cc2"><rect x="408" y="575.2" width="273.2" height="76"/></clipPath>
<path d="M462.5 648.2v-3.2M462.5 578.2v3.2M517 648.2v-3.2M517 578.2v3.2M571.5 648.2v-3.2M571.5 578.2v3.2M626 648.2v-3.2M626 578.2v3.2M408 587.5h3.2M680.4 587.5h-3.2M408 618h3.2M680.4 618h-3.2" stroke="#161616" stroke-width="1.08" fill="none"/>
<rect x="408" y="578.2" width="272.4" height="70" fill="none" stroke="#161616" stroke-width="1.2"/>
<path d="M408,617.9 408.4,617.9 408.8,617.9 409.2,617.9 409.6,617.9 410,617.9 410.4,617.9 410.8,617.9 411.2,617.9 411.6,617.9 412,617.9 412.4,617.9 412.8,617.9 413.2,617.9 413.59,617.9 413.99,617.9 414.39,617.9 414.79,617.9 415.19,617.9 415.59,617.9 415.99,617.9 416.39,617.9 416.79,617.9 417.19,617.9 417.59,617.9 417.99,617.9 418.39,617.9 418.79,617.9 419.19,617.9 419.59,617.9 419.99,617.9 420.39,617.9 420.79,617.9 421.19,617.9 421.59,617.9 421.99,617.9 422.39,617.9 422.79,617.9 423.19,617.9 423.59,617.9 423.99,617.9 424.38,617.9 424.78,617.9 425.18,617.9 425.58,617.9 425.98,617.9 426.38,617.9 426.78,617.9 427.18,617.9 427.58,617.9 427.98,617.9 428.38,617.9 428.78,617.9 429.18,617.9 429.58,617.9 429.98,617.9 430.38,617.9 430.78,617.9 431.18,617.9 431.58,617.9 431.98,617.9 432.38,617.9 432.78,617.9 433.18,617.9 433.58,617.9 433.98,617.9 434.38,617.9 434.78,617.9 435.18,617.9 435.57,617.9 435.97,617.9 436.37,617.9 436.77,617.9 437.17,617.9 437.57,617.9 437.97,617.9 438.37,617.9 438.77,617.9 439.17,617.9 439.57,617.9 439.97,617.9 440.37,617.9 440.77,617.9 441.17,617.9 441.57,617.9 441.97,617.9 442.37,617.9 442.77,617.9 443.17,617.9 443.57,617.9 443.97,617.9 444.37,617.9 444.77,617.9 445.17,617.9 445.57,617.9 445.97,617.9 446.36,617.9 446.76,617.9 447.16,617.9 447.56,617.9 447.96,617.9 448.36,617.9 448.76,617.9 449.16,617.9 449.56,617.9 449.96,617.9 450.36,617.9 450.76,617.9 451.16,617.9 451.56,617.9 451.96,617.9 452.36,617.9 452.76,617.9 453.16,617.9 453.56,617.9 453.96,617.9 454.36,617.9 454.76,617.9 455.16,617.9 455.56,617.9 455.96,617.9 456.36,617.9 456.76,617.9 457.15,617.9 457.55,617.9 457.95,617.9 458.35,617.9 458.75,617.9 459.15,617.9 459.55,617.9 459.95,617.9 460.35,617.9 460.75,617.9 461.15,617.9 461.55,617.9 461.95,617.9 462.35,617.9 462.6,631.66 462.98,634.89 463.35,637.63 463.73,639.46 464.1,640.1 464.49,639.04 464.89,637.61 465.28,635.85 465.67,633.79 466.06,631.49 466.46,629.04 466.85,626.5 467.24,623.96 467.64,621.51 468.03,619.21 468.42,617.15 468.81,615.39 469.21,613.96 469.6,612.9 469.98,613.08 470.35,613.62 470.73,614.48 471.11,615.62 471.48,616.97 471.86,618.44 472.24,619.96 472.62,621.43 472.99,622.78 473.37,623.92 473.75,624.78 474.12,625.32 474.5,625.5 474.89,625.38 475.28,625.01 475.68,624.43 476.07,623.68 476.46,622.79 476.85,621.85 477.24,620.91 477.63,620.03 478.02,619.27 478.42,618.69 478.81,618.32 479.2,618.2 479.58,618.25 479.97,618.38 480.35,618.6 480.74,618.89 481.12,619.23 481.51,619.61 481.89,619.99 482.28,620.37 482.66,620.71 483.05,621 483.43,621.22 483.82,621.35 484.2,621.4 484.59,621.37 484.98,621.27 485.38,621.12 485.77,620.92 486.16,620.7 486.55,620.45 486.94,620.2 487.33,619.98 487.72,619.78 488.12,619.63 488.51,619.53 488.9,619.5 489.29,619.52 489.68,619.59 490.07,619.69 490.47,619.82 490.86,619.98 491.25,620.15 491.64,620.32 492.03,620.47 492.43,620.61 492.82,620.71 493.21,620.78 493.6,620.8 494,620.79 494.4,620.75 494.8,620.7 495.2,620.62 495.6,620.54 496,620.46 496.4,620.38 496.8,620.3 497.2,620.25 497.6,620.21 498,620.2 498.39,620.2 498.79,620.2 499.18,620.2 499.57,620.2 499.96,620.2 500.36,620.2 500.75,620.2 501.14,620.2 501.53,620.2 501.93,620.2 502.32,620.2 502.71,620.2 503.11,620.2 503.5,620.2 503.89,620.2 504.28,620.2 504.68,620.2 505.07,620.2 505.46,620.2 505.85,620.2 506.25,620.2 506.64,620.2 507.03,620.2 507.43,620.2 507.82,620.2 508.21,620.2 508.6,620.2 509,620.2 509.39,620.2 509.78,620.2 510.17,620.2 510.57,620.2 510.96,620.2 511.35,620.2 511.74,620.2 512.14,620.2 512.53,620.2 512.92,620.2 513.32,620.2 513.71,620.2 514.1,620.2 514.49,620.2 514.89,620.2 515.28,620.2 515.67,620.2 516.06,620.2 516.46,620.2 516.85,620.2 517.1,621.94 517.4,622.47 517.7,622.86 518,623 518.39,622.57 518.78,621.98 519.18,621.25 519.57,620.4 519.96,619.46 520.35,618.46 520.75,617.44 521.14,616.44 521.53,615.5 521.92,614.65 522.32,613.92 522.71,613.33 523.1,612.9 523.48,612.96 523.87,613.13 524.25,613.41 524.63,613.77 525.02,614.2 525.4,614.65 525.78,615.1 526.17,615.52 526.55,615.89 526.93,616.17 527.32,616.34 527.7,616.4 528.09,616.35 528.48,616.22 528.88,616.01 529.27,615.73 529.66,615.4 530.05,615.04 530.45,614.66 530.84,614.3 531.23,613.97 531.62,613.69 532.02,613.48 532.41,613.35 532.8,613.3 533.17,613.32 533.55,613.39 533.92,613.51 534.3,613.65 534.67,613.82 535.05,614 535.42,614.18 535.8,614.35 536.17,614.49 536.55,614.61 536.92,614.68 537.3,614.7 537.69,614.68 538.08,614.63 538.47,614.54 538.87,614.43 539.26,614.29 539.65,614.15 540.04,614.01 540.43,613.88 540.83,613.76 541.22,613.67 541.61,613.62 542,613.6 542.4,613.6 542.79,613.59 543.19,613.59 543.59,613.59 543.98,613.59 544.38,613.58 544.78,613.58 545.17,613.58 545.57,613.58 545.97,613.57 546.36,613.57 546.76,613.57 547.16,613.56 547.55,613.56 547.95,613.56 548.35,613.56 548.74,613.55 549.14,613.55 549.54,613.55 549.93,613.55 550.33,613.54 550.73,613.54 551.12,613.54 551.52,613.54 551.92,613.53 552.31,613.53 552.71,613.53 553.11,613.52 553.5,613.52 553.9,613.52 554.3,613.52 554.69,613.51 555.09,613.51 555.49,613.51 555.88,613.51 556.28,613.5 556.67,613.5 557.07,613.5 557.47,613.49 557.86,613.49 558.26,613.49 558.66,613.49 559.05,613.48 559.45,613.48 559.85,613.48 560.24,613.48 560.64,613.47 561.04,613.47 561.43,613.47 561.83,613.46 562.23,613.46 562.62,613.46 563.02,613.46 563.42,613.45 563.81,613.45 564.21,613.45 564.61,613.45 565,613.44 565.4,613.44 565.8,613.44 566.19,613.44 566.59,613.43 566.99,613.43 567.38,613.43 567.78,613.42 568.18,613.42 568.57,613.42 568.97,613.42 569.37,613.41 569.76,613.41 570.16,613.41 570.56,613.41 570.95,613.4 571.35,613.4 571.6,622.89 571.92,624.68 572.24,626.3 572.56,627.59 572.88,628.42 573.2,628.7 573.59,627.78 573.98,626.52 574.38,624.96 574.77,623.14 575.16,621.13 575.55,618.99 575.95,616.81 576.34,614.67 576.73,612.66 577.12,610.84 577.52,609.28 577.91,608.02 578.3,607.1 578.68,607.24 579.05,607.63 579.43,608.27 579.81,609.11 580.18,610.1 580.56,611.19 580.94,612.31 581.32,613.4 581.69,614.39 582.07,615.23 582.45,615.87 582.82,616.26 583.2,616.4 583.59,616.3 583.98,616.02 584.38,615.58 584.77,615 585.16,614.32 585.55,613.6 585.94,612.88 586.33,612.2 586.73,611.62 587.12,611.18 587.51,610.9 587.9,610.8 588.28,610.84 588.67,610.94 589.05,611.11 589.44,611.34 589.82,611.61 590.21,611.9 590.59,612.2 590.98,612.49 591.36,612.76 591.75,612.99 592.13,613.16 592.52,613.26 592.9,613.3 593.29,613.27 593.68,613.18 594.08,613.04 594.47,612.85 594.86,612.63 595.25,612.4 595.64,612.17 596.03,611.95 596.42,611.76 596.82,611.62 597.21,611.53 597.6,611.5 597.98,611.51 598.35,611.55 598.73,611.61 599.11,611.69 599.48,611.79 599.86,611.9 600.24,612 600.62,612.11 600.99,612.21 601.37,612.29 601.75,612.35 602.12,612.39 602.5,612.4 602.9,612.39 603.3,612.38 603.7,612.37 604.1,612.37 604.5,612.36 604.89,612.35 605.29,612.34 605.69,612.33 606.09,612.32 606.49,612.31 606.89,612.31 607.29,612.3 607.69,612.29 608.09,612.28 608.49,612.27 608.89,612.26 609.29,612.25 609.68,612.24 610.08,612.24 610.48,612.23 610.88,612.22 611.28,612.21 611.68,612.2 612.08,612.19 612.48,612.18 612.88,612.18 613.28,612.17 613.68,612.16 614.08,612.15 614.47,612.14 614.87,612.13 615.27,612.12 615.67,612.12 616.07,612.11 616.47,612.1 616.87,612.09 617.27,612.08 617.67,612.07 618.07,612.06 618.47,612.06 618.86,612.05 619.26,612.04 619.66,612.03 620.06,612.02 620.46,612.01 620.86,612 621.26,611.99 621.66,611.99 622.06,611.98 622.46,611.97 622.86,611.96 623.26,611.95 623.65,611.94 624.05,611.93 624.45,611.93 624.85,611.92 625.25,611.91 625.65,611.9 625.9,591.01 626.25,587.69 626.6,584.6 626.95,581.95 627.3,579.92 627.65,578.64 628,578.2 628.38,579.92 628.75,582.27 629.13,585.19 629.51,588.59 629.88,592.36 630.26,596.36 630.64,600.44 631.02,604.44 631.39,608.21 631.77,611.61 632.15,614.53 632.52,616.88 632.9,618.6 633.28,618.33 633.65,617.55 634.03,616.29 634.41,614.63 634.78,612.66 635.16,610.51 635.54,608.29 635.92,606.14 636.29,604.17 636.67,602.51 637.05,601.25 637.42,600.47 637.8,600.2 638.17,600.33 638.54,600.71 638.91,601.31 639.29,602.12 639.66,603.09 640.03,604.17 640.4,605.3 640.77,606.43 641.14,607.51 641.51,608.48 641.89,609.29 642.26,609.89 642.63,610.27 643,610.4 643.38,610.32 643.75,610.07 644.12,609.68 644.5,609.17 644.88,608.58 645.25,607.95 645.62,607.32 646,606.73 646.38,606.22 646.75,605.83 647.12,605.58 647.5,605.5 647.88,605.55 648.25,605.7 648.63,605.94 649.01,606.26 649.38,606.63 649.76,607.04 650.14,607.46 650.52,607.87 650.89,608.24 651.27,608.56 651.65,608.8 652.02,608.95 652.4,609 652.78,608.96 653.17,608.86 653.55,608.69 653.93,608.48 654.32,608.22 654.7,607.95 655.08,607.68 655.47,607.42 655.85,607.21 656.23,607.04 656.62,606.94 657,606.9 657.38,606.92 657.75,606.99 658.12,607.11 658.5,607.25 658.88,607.42 659.25,607.6 659.62,607.78 660,607.95 660.38,608.09 660.75,608.21 661.12,608.28 661.5,608.3 661.88,608.29 662.25,608.26 662.62,608.21 663,608.15 663.38,608.08 663.75,608 664.12,607.92 664.5,607.85 664.88,607.79 665.25,607.74 665.62,607.71 666,607.7 666.39,607.71 666.79,607.72 667.18,607.72 667.58,607.73 667.97,607.74 668.37,607.75 668.76,607.75 669.16,607.76 669.55,607.77 669.95,607.78 670.34,607.78 670.74,607.79 671.13,607.8 671.53,607.81 671.92,607.82 672.32,607.82 672.71,607.83 673.11,607.84 673.5,607.85 673.9,607.85 674.29,607.86 674.69,607.87 675.08,607.88 675.48,607.88 675.87,607.89 676.27,607.9 676.66,607.91 677.06,607.92 677.45,607.92 677.85,607.93 678.24,607.94 678.64,607.95 679.03,607.95 679.43,607.96 679.82,607.97 680.22,607.98 680.61,607.98 681.01,607.99 681.4,608" fill="none" stroke="#0000ff" stroke-width="3.05" stroke-linejoin="round" stroke-linecap="butt" clip-path="url(#cc2)"/>
<rect x="590.5" y="630" width="83.1" height="13.7" fill="#ffffff" stroke="#161616" stroke-width="1.2"/>
<line x1="593.4" y1="636.9" x2="619.3" y2="636.9" stroke="#0000ff" stroke-width="2.8"/>
<text transform="translate(621.3 640.5)" font-family="Liberation Serif" font-size="9.6" font-weight="bold" text-anchor="start" fill="#1a1a1a" textLength="49.1" lengthAdjust="spacingAndGlyphs" stroke="#1a1a1a" stroke-width="0.15">SP-ITSE1.4</text>
<text transform="translate(408 661.5)" font-family="Liberation Serif" font-size="9.8" font-weight="bold" text-anchor="middle" fill="#1a1a1a" stroke="#1a1a1a" stroke-width="0.15">0</text>
<text transform="translate(462.5 661.5)" font-family="Liberation Serif" font-size="9.8" font-weight="bold" text-anchor="middle" fill="#1a1a1a" stroke="#1a1a1a" stroke-width="0.15">10</text>
<text transform="translate(517 661.5)" font-family="Liberation Serif" font-size="9.8" font-weight="bold" text-anchor="middle" fill="#1a1a1a" stroke="#1a1a1a" stroke-width="0.15">20</text>
<text transform="translate(571.5 661.5)" font-family="Liberation Serif" font-size="9.8" font-weight="bold" text-anchor="middle" fill="#1a1a1a" stroke="#1a1a1a" stroke-width="0.15">30</text>
<text transform="translate(626 661.5)" font-family="Liberation Serif" font-size="9.8" font-weight="bold" text-anchor="middle" fill="#1a1a1a" stroke="#1a1a1a" stroke-width="0.15">40</text>
<text transform="translate(680.5 661.5)" font-family="Liberation Serif" font-size="9.8" font-weight="bold" text-anchor="middle" fill="#1a1a1a" stroke="#1a1a1a" stroke-width="0.15">50</text>
<text transform="translate(404.6 590.8)" font-family="Liberation Serif" font-size="9.8" font-weight="bold" text-anchor="end" fill="#1a1a1a" stroke="#1a1a1a" stroke-width="0.15">0.5</text>
<text transform="translate(404.6 621.6)" font-family="Liberation Serif" font-size="9.8" font-weight="bold" text-anchor="end" fill="#1a1a1a" stroke="#1a1a1a" stroke-width="0.15">0</text>
<text transform="translate(404.6 651.7)" font-family="Liberation Serif" font-size="9.8" font-weight="bold" text-anchor="end" fill="#1a1a1a" stroke="#1a1a1a" stroke-width="0.15">-0.5</text>
<text transform="translate(384.3 613.6) rotate(-90) scale(0.900 1.000)" font-family="Liberation Serif" font-size="10.8" font-weight="bold" text-anchor="middle" fill="#1a1a1a" stroke="#1a1a1a" stroke-width="0.15">Delta F</text>
<text transform="translate(544.3 673.4)" font-family="Liberation Serif" font-size="9.6" font-weight="bold" text-anchor="middle" fill="#1a1a1a" textLength="61.3" lengthAdjust="spacingAndGlyphs" stroke="#1a1a1a" stroke-width="0.15">Time (seconds)</text>
<text transform="translate(447.4 693.1)" font-family="Liberation Sans" font-size="12.2" font-weight="bold" text-anchor="start" fill="#1a1a1a" textLength="15.8" lengthAdjust="spacingAndGlyphs">(c)</text>
<text transform="translate(468.7 693.1)" font-family="Liberation Serif" font-size="12.6" font-weight="normal" text-anchor="start" fill="#222222" textLength="55" lengthAdjust="spacingAndGlyphs">Controller</text>
<text transform="translate(528.8 693.1)" font-family="Liberation Serif" font-size="12.6" font-weight="normal" text-anchor="start" fill="#222222" textLength="27.9" lengthAdjust="spacingAndGlyphs">effort</text>
<text transform="translate(562.1 693.1)" font-family="Liberation Serif" font-size="12.6" font-weight="normal" text-anchor="start" fill="#222222" textLength="14.3" lengthAdjust="spacingAndGlyphs">for</text>
<text transform="translate(581.4 693.1)" font-family="Liberation Serif" font-size="12.6" font-weight="normal" text-anchor="start" fill="#222222" textLength="32.2" lengthAdjust="spacingAndGlyphs">case-4</text>
</svg></body></html>
